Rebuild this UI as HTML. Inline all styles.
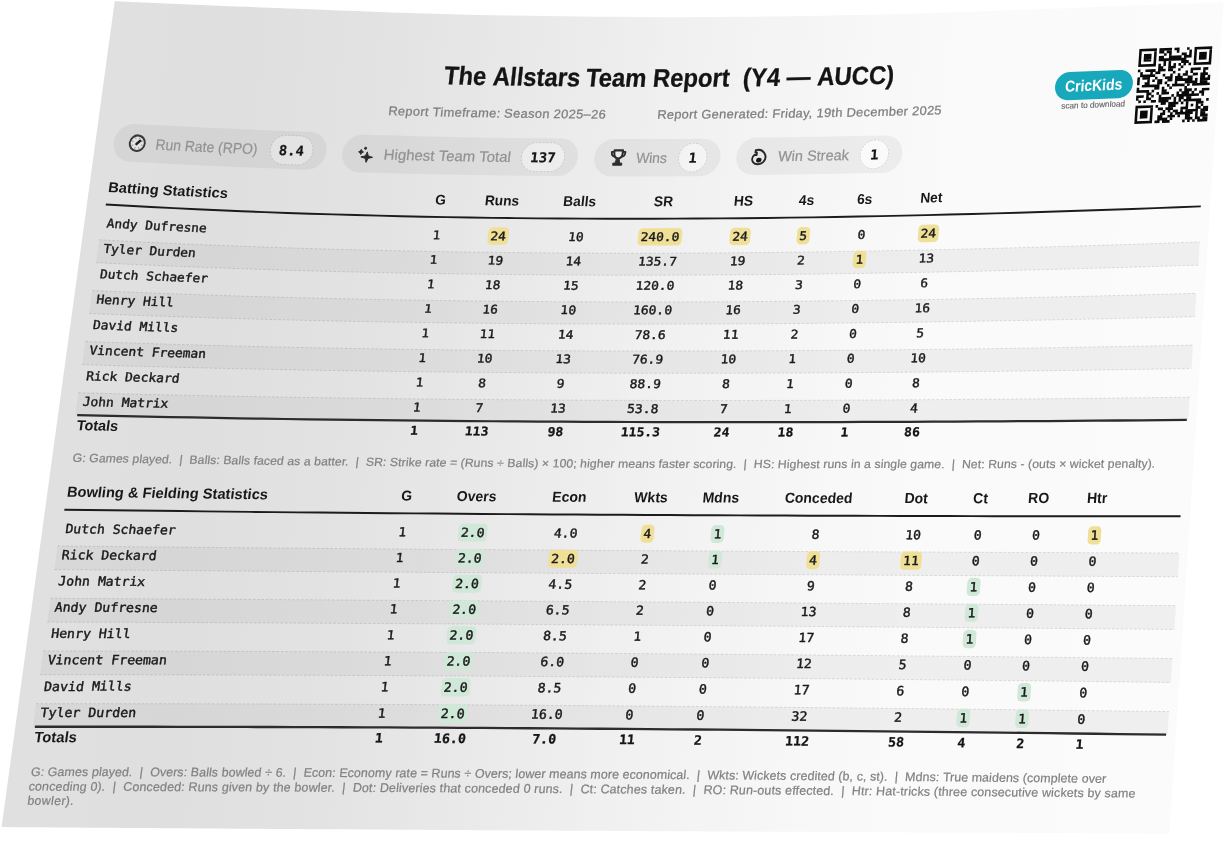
<!DOCTYPE html>
<html lang="en"><head><meta charset="utf-8"><title>The Allstars Team Report</title>
<style>
html,body{margin:0;padding:0;background:#fff;}
body{width:1225px;height:842px;overflow:hidden;}
svg{display:block;}
text{font-family:"Liberation Sans",sans-serif;fill:#1a1a1a;}
.t-title{font-size:25.6px;font-weight:700;fill:#141414;stroke:#141414;stroke-width:.3px;}
.t-sub{font-size:12.4px;fill:#7e7e7e;stroke:#7e7e7e;stroke-width:.25px;}
.t-pill{font-size:14.6px;fill:#929292;stroke:#929292;stroke-width:.2px;}
.t-chipv{font-family:"DejaVu Sans Mono","Liberation Mono",monospace;font-size:13.6px;font-weight:700;fill:#161616;stroke:#161616;stroke-width:.2px;}
.t-th{font-size:14.1px;font-weight:700;fill:#181818;}
.t-mono{font-family:"DejaVu Sans Mono","Liberation Mono",monospace;font-size:12.1px;fill:#1a1a1a;stroke:#1a1a1a;stroke-width:.4px;}
.t-monob{font-family:"DejaVu Sans Mono","Liberation Mono",monospace;font-size:12.1px;font-weight:700;fill:#141414;stroke:#141414;stroke-width:.25px;}
.t-foot{font-size:11.5px;fill:#828282;stroke:#828282;stroke-width:.2px;}
.t-logo{font-size:15.6px;font-weight:700;fill:#fff;}
.t-scan{font-size:8.2px;fill:#666;stroke:#666;stroke-width:.15px;}
</style></head>
<body>
<svg width="1225" height="842" viewBox="0 0 1225 842">
<defs>
<linearGradient id="pg" gradientUnits="userSpaceOnUse" x1="0" y1="0" x2="1310" y2="0" gradientTransform="matrix(1 0 -0.1 1 0 0)"><stop offset="0.0000" stop-color="#e0e0e0"/><stop offset="0.0076" stop-color="#e0e0e0"/><stop offset="0.0153" stop-color="#e0e0e0"/><stop offset="0.0229" stop-color="#e0e0e0"/><stop offset="0.0305" stop-color="#e0e0e0"/><stop offset="0.0382" stop-color="#e0e0e0"/><stop offset="0.0458" stop-color="#e0e0e0"/><stop offset="0.0534" stop-color="#e0e0e0"/><stop offset="0.0611" stop-color="#e0e0e0"/><stop offset="0.0687" stop-color="#e0e0e0"/><stop offset="0.0763" stop-color="#e0e0e0"/><stop offset="0.0840" stop-color="#e0e0e0"/><stop offset="0.0916" stop-color="#e0e0e0"/><stop offset="0.0992" stop-color="#e0e0e0"/><stop offset="0.1069" stop-color="#e0e0e0"/><stop offset="0.1145" stop-color="#e0e0e0"/><stop offset="0.1221" stop-color="#e0e0e0"/><stop offset="0.1298" stop-color="#e0e0e0"/><stop offset="0.1374" stop-color="#dfdfdf"/><stop offset="0.1450" stop-color="#dfdfdf"/><stop offset="0.1527" stop-color="#dfdfdf"/><stop offset="0.1603" stop-color="#dfdfdf"/><stop offset="0.1679" stop-color="#dfdfdf"/><stop offset="0.1756" stop-color="#dfdfdf"/><stop offset="0.1832" stop-color="#dfdfdf"/><stop offset="0.1908" stop-color="#dfdfdf"/><stop offset="0.1985" stop-color="#dfdfdf"/><stop offset="0.2061" stop-color="#e0e0e0"/><stop offset="0.2137" stop-color="#e0e0e0"/><stop offset="0.2214" stop-color="#e0e0e0"/><stop offset="0.2290" stop-color="#e0e0e0"/><stop offset="0.2366" stop-color="#e1e1e1"/><stop offset="0.2443" stop-color="#e1e1e1"/><stop offset="0.2519" stop-color="#e1e1e1"/><stop offset="0.2595" stop-color="#e1e1e1"/><stop offset="0.2672" stop-color="#e2e2e2"/><stop offset="0.2748" stop-color="#e2e2e2"/><stop offset="0.2824" stop-color="#e2e2e2"/><stop offset="0.2901" stop-color="#e2e2e2"/><stop offset="0.2977" stop-color="#e3e3e3"/><stop offset="0.3053" stop-color="#e3e3e3"/><stop offset="0.3130" stop-color="#e3e3e3"/><stop offset="0.3206" stop-color="#e4e4e4"/><stop offset="0.3282" stop-color="#e4e4e4"/><stop offset="0.3359" stop-color="#e5e5e5"/><stop offset="0.3435" stop-color="#e5e5e5"/><stop offset="0.3511" stop-color="#e6e6e6"/><stop offset="0.3588" stop-color="#e6e6e6"/><stop offset="0.3664" stop-color="#e6e6e6"/><stop offset="0.3740" stop-color="#e7e7e7"/><stop offset="0.3817" stop-color="#e8e8e8"/><stop offset="0.3893" stop-color="#e8e8e8"/><stop offset="0.3969" stop-color="#e8e8e8"/><stop offset="0.4046" stop-color="#e9e9e9"/><stop offset="0.4122" stop-color="#e9e9e9"/><stop offset="0.4198" stop-color="#eaeaea"/><stop offset="0.4275" stop-color="#eaeaea"/><stop offset="0.4351" stop-color="#ebebeb"/><stop offset="0.4427" stop-color="#ebebeb"/><stop offset="0.4504" stop-color="#ececec"/><stop offset="0.4580" stop-color="#ececec"/><stop offset="0.4656" stop-color="#ececec"/><stop offset="0.4733" stop-color="#ededed"/><stop offset="0.4809" stop-color="#eeeeee"/><stop offset="0.4885" stop-color="#eeeeee"/><stop offset="0.4962" stop-color="#eeeeee"/><stop offset="0.5038" stop-color="#efefef"/><stop offset="0.5115" stop-color="#f0f0f0"/><stop offset="0.5191" stop-color="#f0f0f0"/><stop offset="0.5267" stop-color="#f0f0f0"/><stop offset="0.5344" stop-color="#f1f1f1"/><stop offset="0.5420" stop-color="#f1f1f1"/><stop offset="0.5496" stop-color="#f2f2f2"/><stop offset="0.5573" stop-color="#f2f2f2"/><stop offset="0.5649" stop-color="#f2f2f2"/><stop offset="0.5725" stop-color="#f3f3f3"/><stop offset="0.5802" stop-color="#f3f3f3"/><stop offset="0.5878" stop-color="#f4f4f4"/><stop offset="0.5954" stop-color="#f4f4f4"/><stop offset="0.6031" stop-color="#f4f4f4"/><stop offset="0.6107" stop-color="#f4f4f4"/><stop offset="0.6183" stop-color="#f5f5f5"/><stop offset="0.6260" stop-color="#f5f5f5"/><stop offset="0.6336" stop-color="#f6f6f6"/><stop offset="0.6412" stop-color="#f6f6f6"/><stop offset="0.6489" stop-color="#f6f6f6"/><stop offset="0.6565" stop-color="#f7f7f7"/><stop offset="0.6641" stop-color="#f7f7f7"/><stop offset="0.6718" stop-color="#f8f8f8"/><stop offset="0.6794" stop-color="#f8f8f8"/><stop offset="0.6870" stop-color="#f8f8f8"/><stop offset="0.6947" stop-color="#f8f8f8"/><stop offset="0.7023" stop-color="#f8f8f8"/><stop offset="0.7099" stop-color="#f9f9f9"/><stop offset="0.7176" stop-color="#f9f9f9"/><stop offset="0.7252" stop-color="#f9f9f9"/><stop offset="0.7328" stop-color="#fafafa"/><stop offset="0.7405" stop-color="#fafafa"/><stop offset="0.7481" stop-color="#fafafa"/><stop offset="0.7557" stop-color="#fafafa"/><stop offset="0.7634" stop-color="#fafafa"/><stop offset="0.7710" stop-color="#fafafa"/><stop offset="0.7786" stop-color="#fafafa"/><stop offset="0.7863" stop-color="#fafafa"/><stop offset="0.7939" stop-color="#fafafa"/><stop offset="0.8015" stop-color="#fafafa"/><stop offset="0.8092" stop-color="#fafafa"/><stop offset="0.8168" stop-color="#fafafa"/><stop offset="0.8244" stop-color="#fafafa"/><stop offset="0.8321" stop-color="#fafafa"/><stop offset="0.8397" stop-color="#fafafa"/><stop offset="0.8473" stop-color="#fafafa"/><stop offset="0.8550" stop-color="#fafafa"/><stop offset="0.8626" stop-color="#fafafa"/><stop offset="0.8702" stop-color="#fafafa"/><stop offset="0.8779" stop-color="#fbfbfb"/><stop offset="0.8855" stop-color="#fbfbfb"/><stop offset="0.8931" stop-color="#fbfbfb"/><stop offset="0.9008" stop-color="#fbfbfb"/><stop offset="0.9084" stop-color="#fbfbfb"/><stop offset="0.9160" stop-color="#fbfbfb"/><stop offset="0.9237" stop-color="#fbfbfb"/><stop offset="0.9313" stop-color="#fbfbfb"/><stop offset="0.9389" stop-color="#fbfbfb"/><stop offset="0.9466" stop-color="#fbfbfb"/><stop offset="0.9542" stop-color="#fbfbfb"/><stop offset="0.9618" stop-color="#fbfbfb"/><stop offset="0.9695" stop-color="#fbfbfb"/><stop offset="0.9771" stop-color="#fbfbfb"/><stop offset="0.9847" stop-color="#fbfbfb"/><stop offset="0.9924" stop-color="#fbfbfb"/><stop offset="1.0000" stop-color="#fbfbfb"/></linearGradient>
<linearGradient id="cg" gradientUnits="userSpaceOnUse" x1="0" y1="0" x2="1310" y2="0" gradientTransform="matrix(1 0 -0.1 1 0 0)"><stop offset="0.0000" stop-color="#e2e2e2"/><stop offset="0.0076" stop-color="#e2e2e2"/><stop offset="0.0153" stop-color="#e2e2e2"/><stop offset="0.0229" stop-color="#e2e2e2"/><stop offset="0.0305" stop-color="#e2e2e2"/><stop offset="0.0382" stop-color="#e2e2e2"/><stop offset="0.0458" stop-color="#e2e2e2"/><stop offset="0.0534" stop-color="#e2e2e2"/><stop offset="0.0611" stop-color="#e2e2e2"/><stop offset="0.0687" stop-color="#e2e2e2"/><stop offset="0.0763" stop-color="#e2e2e2"/><stop offset="0.0840" stop-color="#e2e2e2"/><stop offset="0.0916" stop-color="#e2e2e2"/><stop offset="0.0992" stop-color="#e2e2e2"/><stop offset="0.1069" stop-color="#e2e2e2"/><stop offset="0.1145" stop-color="#e2e2e2"/><stop offset="0.1221" stop-color="#e2e2e2"/><stop offset="0.1298" stop-color="#e2e2e2"/><stop offset="0.1374" stop-color="#e2e2e2"/><stop offset="0.1450" stop-color="#e2e2e2"/><stop offset="0.1527" stop-color="#e2e2e2"/><stop offset="0.1603" stop-color="#e2e2e2"/><stop offset="0.1679" stop-color="#e2e2e2"/><stop offset="0.1756" stop-color="#e2e2e2"/><stop offset="0.1832" stop-color="#e2e2e2"/><stop offset="0.1908" stop-color="#e2e2e2"/><stop offset="0.1985" stop-color="#e2e2e2"/><stop offset="0.2061" stop-color="#e2e2e2"/><stop offset="0.2137" stop-color="#e2e2e2"/><stop offset="0.2214" stop-color="#e3e3e3"/><stop offset="0.2290" stop-color="#e3e3e3"/><stop offset="0.2366" stop-color="#e3e3e3"/><stop offset="0.2443" stop-color="#e3e3e3"/><stop offset="0.2519" stop-color="#e4e4e4"/><stop offset="0.2595" stop-color="#e4e4e4"/><stop offset="0.2672" stop-color="#e4e4e4"/><stop offset="0.2748" stop-color="#e4e4e4"/><stop offset="0.2824" stop-color="#e5e5e5"/><stop offset="0.2901" stop-color="#e5e5e5"/><stop offset="0.2977" stop-color="#e5e5e5"/><stop offset="0.3053" stop-color="#e6e6e6"/><stop offset="0.3130" stop-color="#e6e6e6"/><stop offset="0.3206" stop-color="#e6e6e6"/><stop offset="0.3282" stop-color="#e7e7e7"/><stop offset="0.3359" stop-color="#e7e7e7"/><stop offset="0.3435" stop-color="#e8e8e8"/><stop offset="0.3511" stop-color="#e8e8e8"/><stop offset="0.3588" stop-color="#e8e8e8"/><stop offset="0.3664" stop-color="#e9e9e9"/><stop offset="0.3740" stop-color="#eaeaea"/><stop offset="0.3817" stop-color="#eaeaea"/><stop offset="0.3893" stop-color="#eaeaea"/><stop offset="0.3969" stop-color="#ebebeb"/><stop offset="0.4046" stop-color="#ebebeb"/><stop offset="0.4122" stop-color="#ececec"/><stop offset="0.4198" stop-color="#ececec"/><stop offset="0.4275" stop-color="#ededed"/><stop offset="0.4351" stop-color="#ededed"/><stop offset="0.4427" stop-color="#eeeeee"/><stop offset="0.4504" stop-color="#eeeeee"/><stop offset="0.4580" stop-color="#eeeeee"/><stop offset="0.4656" stop-color="#efefef"/><stop offset="0.4733" stop-color="#f0f0f0"/><stop offset="0.4809" stop-color="#f0f0f0"/><stop offset="0.4885" stop-color="#f0f0f0"/><stop offset="0.4962" stop-color="#f1f1f1"/><stop offset="0.5038" stop-color="#f2f2f2"/><stop offset="0.5115" stop-color="#f2f2f2"/><stop offset="0.5191" stop-color="#f2f2f2"/><stop offset="0.5267" stop-color="#f3f3f3"/><stop offset="0.5344" stop-color="#f3f3f3"/><stop offset="0.5420" stop-color="#f4f4f4"/><stop offset="0.5496" stop-color="#f4f4f4"/><stop offset="0.5573" stop-color="#f5f5f5"/><stop offset="0.5649" stop-color="#f5f5f5"/><stop offset="0.5725" stop-color="#f5f5f5"/><stop offset="0.5802" stop-color="#f6f6f6"/><stop offset="0.5878" stop-color="#f6f6f6"/><stop offset="0.5954" stop-color="#f6f6f6"/><stop offset="0.6031" stop-color="#f7f7f7"/><stop offset="0.6107" stop-color="#f7f7f7"/><stop offset="0.6183" stop-color="#f7f7f7"/><stop offset="0.6260" stop-color="#f8f8f8"/><stop offset="0.6336" stop-color="#f8f8f8"/><stop offset="0.6412" stop-color="#f8f8f8"/><stop offset="0.6489" stop-color="#f9f9f9"/><stop offset="0.6565" stop-color="#f9f9f9"/><stop offset="0.6641" stop-color="#fafafa"/><stop offset="0.6718" stop-color="#fafafa"/><stop offset="0.6794" stop-color="#fafafa"/><stop offset="0.6870" stop-color="#fafafa"/><stop offset="0.6947" stop-color="#fbfbfb"/><stop offset="0.7023" stop-color="#fbfbfb"/><stop offset="0.7099" stop-color="#fbfbfb"/><stop offset="0.7176" stop-color="#fcfcfc"/><stop offset="0.7252" stop-color="#fcfcfc"/><stop offset="0.7328" stop-color="#fcfcfc"/><stop offset="0.7405" stop-color="#fcfcfc"/><stop offset="0.7481" stop-color="#fcfcfc"/><stop offset="0.7557" stop-color="#fdfdfd"/><stop offset="0.7634" stop-color="#fdfdfd"/><stop offset="0.7710" stop-color="#fdfdfd"/><stop offset="0.7786" stop-color="#fdfdfd"/><stop offset="0.7863" stop-color="#fdfdfd"/><stop offset="0.7939" stop-color="#fdfdfd"/><stop offset="0.8015" stop-color="#fdfdfd"/><stop offset="0.8092" stop-color="#fdfdfd"/><stop offset="0.8168" stop-color="#fdfdfd"/><stop offset="0.8244" stop-color="#fdfdfd"/><stop offset="0.8321" stop-color="#fdfdfd"/><stop offset="0.8397" stop-color="#fdfdfd"/><stop offset="0.8473" stop-color="#fdfdfd"/><stop offset="0.8550" stop-color="#fdfdfd"/><stop offset="0.8626" stop-color="#fdfdfd"/><stop offset="0.8702" stop-color="#fdfdfd"/><stop offset="0.8779" stop-color="#fdfdfd"/><stop offset="0.8855" stop-color="#fdfdfd"/><stop offset="0.8931" stop-color="#fdfdfd"/><stop offset="0.9008" stop-color="#fdfdfd"/><stop offset="0.9084" stop-color="#fdfdfd"/><stop offset="0.9160" stop-color="#fdfdfd"/><stop offset="0.9237" stop-color="#fdfdfd"/><stop offset="0.9313" stop-color="#fdfdfd"/><stop offset="0.9389" stop-color="#fdfdfd"/><stop offset="0.9466" stop-color="#fdfdfd"/><stop offset="0.9542" stop-color="#fdfdfd"/><stop offset="0.9618" stop-color="#fdfdfd"/><stop offset="0.9695" stop-color="#fdfdfd"/><stop offset="0.9771" stop-color="#fdfdfd"/><stop offset="0.9847" stop-color="#fdfdfd"/><stop offset="0.9924" stop-color="#fdfdfd"/><stop offset="1.0000" stop-color="#fdfdfd"/></linearGradient>
<linearGradient id="sg" gradientUnits="userSpaceOnUse" x1="0" y1="0" x2="1225" y2="0"><stop offset="0" stop-color="#000" stop-opacity="0.038"/><stop offset="1" stop-color="#000" stop-opacity="0.05"/></linearGradient>
</defs>
<path d="M114.7,1.2 L131.93,1.94 L149.16,2.68 L166.39,3.42 L183.62,4.17 L200.85,4.92 L218.09,5.66 L235.32,6.38 L252.57,7.09 L269.82,7.76 L287.07,8.43 L304.32,9.08 L321.58,9.73 L338.83,10.39 L356.09,11.07 L373.34,11.75 L390.61,12.4 L407.87,12.99 L425.15,13.56 L442.43,14.09 L459.72,14.52 L477.02,14.89 L494.32,15.23 L511.63,15.54 L528.94,15.81 L546.26,16.05 L563.58,16.26 L580.9,16.46 L598.23,16.66 L615.55,16.84 L632.88,16.99 L650.21,17.1 L667.55,17.15 L684.9,17.14 L702.25,17.08 L719.6,16.98 L736.96,16.84 L754.32,16.68 L771.68,16.51 L789.04,16.31 L806.41,16 L823.79,15.64 L841.16,15.3 L858.53,14.97 L875.9,14.63 L893.27,14.24 L910.65,13.79 L928.04,13.26 L945.43,12.67 L962.81,12.07 L980.2,11.42 L997.6,10.75 L1014.98,10.08 L1032.37,9.44 L1049.75,8.83 L1067.13,8.21 L1084.51,7.54 L1101.9,6.78 L1119.28,6.08 L1136.66,5.44 L1154.03,4.83 L1171.4,4.23 L1188.77,3.64 L1206.14,3.06 L1223.5,2.5 L1220.23,52.58 L1216.94,102.9 L1213.64,153.47 L1210.32,204.27 L1206.98,255.41 L1203.63,306.96 L1200.26,358.87 L1196.88,411.09 L1193.48,463.86 L1190.06,516.79 L1186.62,569.32 L1183.17,622.07 L1179.71,675.02 L1176.22,728.18 L1172.72,781.08 L1169.2,833.5 L1150.95,833.42 L1132.71,833.35 L1114.46,833.27 L1096.22,833.2 L1077.97,833.12 L1059.73,833.04 L1041.48,832.96 L1023.24,832.88 L1004.99,832.8 L986.74,832.72 L968.5,832.64 L950.25,832.56 L932.01,832.47 L913.76,832.39 L895.52,832.31 L877.27,832.22 L859.03,832.14 L840.78,832.05 L822.53,831.96 L804.29,831.87 L786.04,831.79 L767.8,831.7 L749.55,831.61 L731.31,831.51 L713.06,831.42 L694.82,831.33 L676.57,831.23 L658.33,831.14 L640.08,831.04 L621.84,830.95 L603.59,830.85 L585.35,830.75 L567.1,830.65 L548.86,830.55 L530.62,830.45 L512.37,830.35 L494.13,830.24 L475.88,830.14 L457.64,830.03 L439.4,829.92 L421.15,829.82 L402.91,829.71 L384.67,829.6 L366.42,829.49 L348.18,829.37 L329.94,829.26 L311.69,829.14 L293.45,829.03 L275.21,828.91 L256.97,828.79 L238.73,828.67 L220.48,828.55 L202.24,828.43 L184,828.31 L165.76,828.18 L147.52,828.06 L129.28,827.93 L111.04,827.8 L92.8,827.67 L74.56,827.54 L56.32,827.41 L38.08,827.27 L19.84,827.14 L1.6,827 L8.93,773.48 L16.22,720.22 L23.48,667.23 L30.7,614.49 L37.89,562.01 L45.04,509.79 L52.16,457.82 L59.25,406.1 L66.29,354.63 L73.31,303.41 L80.29,252.44 L87.24,201.71 L94.15,151.22 L101.03,100.98 L107.88,50.97Z" fill="url(#pg)"/>
<text class="t-title" transform="matrix(0.9282 0.0187 -0.1139 1.0024 443.31 84.25)">The</text>
<text class="t-title" transform="matrix(0.9292 0.0115 -0.1092 1.0013 492.19 85.29)">Allstars</text>
<text class="t-title" transform="matrix(0.9298 0.0062 -0.1038 0.9992 585.23 86.38)">Team</text>
<text class="t-title" transform="matrix(0.9308 -0.004 -0.0989 0.9976 652.3 86.83)">Report</text>
<text class="t-title" transform="matrix(0.9313 -0.0097 -0.0944 0.9977 742.37 86.31)">(Y4</text>
<text class="t-title" transform="matrix(0.9319 -0.0164 -0.092 0.998 786.12 85.83)">—</text>
<text class="t-title" transform="matrix(0.9319 -0.0179 -0.0885 0.9991 816.64 85.3)">AUCC)</text>
<text class="t-sub" transform="matrix(1.035 0.029 -0.1177 1.0055 387.93 114.92)" letter-spacing="0.32">Report</text>
<text class="t-sub" transform="matrix(1.0363 0.0196 -0.1137 1.0036 432.34 116.18)" letter-spacing="0.32">Timeframe:</text>
<text class="t-sub" transform="matrix(1.0372 0.0129 -0.1097 1.0026 503.84 117.48)" letter-spacing="0.32">Season</text>
<text class="t-sub" transform="matrix(1.0377 0.0087 -0.1062 1.0015 553.36 118.08)" letter-spacing="0.32">2025–26</text>
<text class="t-sub" transform="matrix(1.0389 -0.0032 -0.0997 0.9989 656.94 118.66)" letter-spacing="0.26">Report</text>
<text class="t-sub" transform="matrix(1.0395 -0.0093 -0.096 0.999 701.06 118.53)" letter-spacing="0.26">Generated:</text>
<text class="t-sub" transform="matrix(1.04 -0.0167 -0.0923 0.9993 772.06 117.89)" letter-spacing="0.26">Friday,</text>
<text class="t-sub" transform="matrix(1.0401 -0.0185 -0.0901 1.0004 816.24 117.16)" letter-spacing="0.26">19th</text>
<text class="t-sub" transform="matrix(1.0403 -0.0221 -0.0871 1.0009 846.26 116.67)" letter-spacing="0.26">December</text>
<text class="t-sub" transform="matrix(1.0408 -0.0297 -0.0841 1.0027 911.76 115.2)" letter-spacing="0.26">2025</text>
<path d="M113.82,141.89 L114.44,138.95 L115.5,136.12 L116.96,133.45 L118.8,131.01 L120.96,128.86 L123.39,127.06 L126.03,125.65 L128.83,124.66 L131.7,124.12 L134.58,124.03 L149.22,124.8 L163.86,125.55 L178.51,126.27 L193.16,126.98 L207.81,127.67 L222.47,128.33 L237.14,128.97 L251.81,129.58 L266.48,130.18 L281.15,130.75 L295.83,131.3 L310.52,131.84 L313.34,132.17 L316.05,132.97 L318.55,134.2 L320.81,135.83 L322.75,137.83 L324.34,140.15 L325.53,142.74 L326.29,145.51 L326.61,148.42 L326.47,151.39 L326.47,151.39 L325.89,154.34 L324.87,157.2 L323.43,159.91 L321.62,162.39 L319.48,164.58 L317.06,166.44 L314.42,167.91 L311.63,168.95 L308.75,169.55 L305.85,169.68 L291.13,169.16 L276.42,168.61 L261.71,168.04 L247,167.44 L232.29,166.82 L217.6,166.18 L202.9,165.51 L188.21,164.81 L173.52,164.09 L158.84,163.34 L144.17,162.57 L129.5,161.78 L126.67,161.38 L123.98,160.54 L121.49,159.26 L119.26,157.57 L117.35,155.53 L115.79,153.17 L114.64,150.56 L113.92,147.76 L113.64,144.85 L113.82,141.89Z" fill="rgba(0,0,0,0.048)" />
<path d="M270.35,149.35 L270.8,147.08 L271.6,144.88 L272.7,142.81 L274.09,140.91 L275.74,139.24 L277.6,137.82 L279.62,136.7 L281.76,135.91 L283.97,135.46 L286.18,135.36 L289.79,135.5 L293.39,135.63 L296.99,135.77 L300.6,135.9 L302.77,136.16 L304.84,136.77 L306.77,137.71 L308.5,138.97 L309.99,140.51 L311.2,142.29 L312.11,144.27 L312.7,146.41 L312.94,148.64 L312.83,150.92 L312.83,150.92 L312.38,153.18 L311.59,155.38 L310.49,157.46 L309.1,159.36 L307.46,161.04 L305.6,162.46 L303.57,163.59 L301.43,164.39 L299.22,164.85 L297,164.95 L293.39,164.81 L289.78,164.68 L286.17,164.55 L282.56,164.41 L280.38,164.15 L278.31,163.54 L276.38,162.59 L274.65,161.33 L273.16,159.78 L271.95,157.99 L271.05,156 L270.47,153.86 L270.23,151.62 L270.35,149.35Z" fill="url(#cg)" stroke="rgba(0,0,0,0.15)" stroke-width="0.8" stroke-dasharray="2 1.6"/>
<g transform="matrix(0.9748 0.0521 -0.1355 1.0094 137.28 143.17)" fill="none" stroke="#383838" stroke-linecap="round"><circle r="7.7" stroke-width="2" fill="rgba(255,255,255,0.35)"/><path d="M-4.32,-1.57L-5.26,-1.92M-1.94,-4.17L-2.37,-5.08M1.57,-4.32L1.92,-5.26M4.17,-1.94L5.08,-2.37M4.32,1.57L5.26,1.92M1.94,4.17L2.37,5.08M-1.57,4.32L-1.92,5.26M-4.17,1.94L-5.08,2.37" stroke-width="0.9" stroke="#8a8a8a"/><path d="M-0.7,0.9 L2.7,-2.5" stroke-width="2.5" stroke="#222"/></g>
<text class="t-pill" transform="matrix(0.9498 0.0478 -0.1337 1.0109 155.05 149.43)">Run</text>
<text class="t-pill" transform="matrix(0.9504 0.0446 -0.1317 1.0117 184.35 150.91)">Rate</text>
<text class="t-pill" transform="matrix(0.9511 0.0405 -0.1293 1.0122 217.53 152.47)">(RPO)</text>
<text class="t-chipv" transform="matrix(1.0266 0.0379 -0.1258 1.0122 278.33 154.91)">8.4</text>
<path d="M342.36,152.93 L342.94,149.98 L343.96,147.12 L345.39,144.42 L347.2,141.94 L349.33,139.75 L351.74,137.9 L354.38,136.43 L357.16,135.38 L360.03,134.78 L362.92,134.64 L379.46,135.15 L396,135.62 L412.54,136.07 L429.09,136.47 L445.65,136.83 L462.21,137.16 L478.77,137.45 L495.34,137.71 L511.91,137.95 L528.49,138.15 L545.07,138.33 L561.65,138.48 L564.49,138.74 L567.22,139.45 L569.76,140.6 L572.05,142.15 L574.03,144.08 L575.67,146.33 L576.9,148.85 L577.72,151.58 L578.09,154.44 L578,157.38 L578,157.38 L577.47,160.31 L576.49,163.17 L575.1,165.88 L573.33,168.38 L571.22,170.61 L568.82,172.5 L566.2,174.03 L563.41,175.13 L560.53,175.8 L557.63,176.01 L541.01,175.87 L524.39,175.7 L507.77,175.51 L491.16,175.29 L474.55,175.03 L457.94,174.75 L441.34,174.44 L424.74,174.1 L408.15,173.72 L391.56,173.31 L374.98,172.87 L358.4,172.4 L355.56,172.08 L352.84,171.3 L350.32,170.09 L348.06,168.46 L346.11,166.47 L344.51,164.15 L343.32,161.58 L342.55,158.8 L342.23,155.9 L342.36,152.93Z" fill="rgba(0,0,0,0.048)" />
<path d="M521.41,156.86 L521.83,154.61 L522.59,152.42 L523.66,150.34 L525.03,148.43 L526.65,146.73 L528.49,145.28 L530.5,144.12 L532.64,143.28 L534.84,142.77 L537.06,142.62 L540.81,142.66 L544.57,142.69 L548.32,142.73 L552.08,142.76 L554.26,142.96 L556.35,143.51 L558.3,144.39 L560.05,145.59 L561.58,147.07 L562.83,148.8 L563.78,150.73 L564.4,152.83 L564.68,155.03 L564.61,157.28 L564.61,157.28 L564.2,159.53 L563.45,161.73 L562.38,163.81 L561.02,165.72 L559.4,167.43 L557.56,168.89 L555.55,170.05 L553.41,170.9 L551.2,171.41 L548.98,171.57 L545.21,171.53 L541.45,171.5 L537.69,171.47 L533.93,171.43 L531.75,171.23 L529.65,170.68 L527.7,169.79 L525.95,168.59 L524.43,167.1 L523.18,165.37 L522.23,163.42 L521.62,161.33 L521.34,159.12 L521.41,156.86Z" fill="url(#cg)" stroke="rgba(0,0,0,0.15)" stroke-width="0.8" stroke-dasharray="2 1.6"/>
<g transform="matrix(0.9788 0.0294 -0.1206 1.0092 365.84 153.67)" fill="#2a2a2a" stroke="#2a2a2a" stroke-width="0.9" stroke-linejoin="round"><path d="M1.3,-1.8 L2.74,2.15 L7.3,3.4 L2.74,4.65 L1.3,8.6 L-0.14,4.65 L-4.7,3.4 L-0.14,2.15Z"/><path d="M-5.1,-4.1 L-4.22,-2.48 L-2.6,-1.6 L-4.22,-0.72 L-5.1,0.9 L-5.98,-0.72 L-7.6,-1.6 L-5.98,-2.48Z"/><circle cx="-0.9" cy="-5.3" r="1.1"/></g>
<text class="t-pill" transform="matrix(1.0253 0.0256 -0.1175 1.0069 383.28 159.48)">Highest</text>
<text class="t-pill" transform="matrix(1.0261 0.019 -0.1142 1.0053 438.21 160.8)">Team</text>
<text class="t-pill" transform="matrix(1.0267 0.0149 -0.1117 1.0046 478.75 161.54)">Total</text>
<text class="t-chipv" transform="matrix(1.0306 0.0098 -0.1085 1.0037 529.79 162.15)">137</text>
<path d="M594.38,157.58 L594.91,154.65 L595.89,151.79 L597.27,149.08 L599.04,146.58 L601.14,144.36 L603.53,142.46 L606.15,140.93 L608.92,139.82 L611.79,139.15 L614.69,138.93 L622.12,138.96 L629.54,138.98 L636.97,138.99 L644.4,139 L651.83,139 L659.27,139 L666.7,138.98 L674.13,138.96 L681.57,138.94 L689,138.9 L696.43,138.87 L703.87,138.82 L706.72,139.03 L709.45,139.7 L712.01,140.8 L714.32,142.32 L716.32,144.21 L717.98,146.43 L719.24,148.92 L720.08,151.62 L720.48,154.47 L720.42,157.4 L720.42,157.4 L719.91,160.32 L718.96,163.19 L717.6,165.91 L715.84,168.42 L713.75,170.67 L711.37,172.59 L708.76,174.15 L705.98,175.29 L703.11,175.99 L700.2,176.24 L692.75,176.28 L685.3,176.32 L677.85,176.35 L670.4,176.38 L662.95,176.4 L655.5,176.42 L648.05,176.43 L640.6,176.43 L633.15,176.43 L625.7,176.42 L618.25,176.41 L610.8,176.39 L607.95,176.15 L605.22,175.46 L602.67,174.32 L600.37,172.78 L598.38,170.86 L596.74,168.61 L595.49,166.1 L594.67,163.37 L594.3,160.51 L594.38,157.58Z" fill="rgba(0,0,0,0.048)" />
<path d="M678.63,157.64 L679.02,155.4 L679.76,153.2 L680.81,151.12 L682.16,149.19 L683.77,147.48 L685.59,146.01 L687.59,144.82 L689.72,143.95 L691.93,143.41 L694.15,143.23 L694.15,143.23 L694.15,143.23 L694.15,143.23 L694.15,143.23 L696.33,143.39 L698.43,143.9 L700.39,144.75 L702.16,145.92 L703.7,147.37 L704.97,149.07 L705.94,150.99 L706.58,153.06 L706.89,155.25 L706.84,157.49 L706.84,157.49 L706.45,159.74 L705.72,161.94 L704.67,164.02 L703.32,165.95 L701.71,167.67 L699.89,169.15 L697.88,170.34 L695.75,171.21 L693.54,171.75 L691.32,171.94 L691.32,171.94 L691.32,171.94 L691.32,171.94 L691.32,171.94 L689.13,171.77 L687.02,171.26 L685.06,170.4 L683.29,169.24 L681.75,167.78 L680.48,166.07 L679.52,164.16 L678.88,162.08 L678.58,159.89 L678.63,157.64Z" fill="url(#cg)" stroke="rgba(0,0,0,0.15)" stroke-width="0.8" stroke-dasharray="2 1.6"/>
<g transform="matrix(0.9823 0.0028 -0.1034 1.0015 618.06 157.67)" fill="none" stroke="#2e2e2e" stroke-linejoin="round" stroke-linecap="round"><path d="M-4.3,-7.3h8.6v2.4c0,3.7 -2,5.7 -4.3,5.7c-2.3,0 -4.3,-2 -4.3,-5.7z" stroke-width="2.1" fill="rgba(255,255,255,0.3)"/><path d="M-4.8,-5.8h-2.1c0,2.9 .9,4.4 3,4.8 M4.8,-5.8h2.1c0,2.9 -.9,4.4 -3,4.8" stroke-width="1.9"/><path d="M-1.2,1.2h2.4l1,4h-4.4z M-4.4,5.4h8.8v2.2h-8.8z" fill="#2e2e2e" stroke-width="0.9"/></g>
<text class="t-pill" transform="matrix(0.955 -0.0009 -0.1012 1.0007 635.64 162.95)">Wins</text>
<text class="t-chipv" transform="matrix(1.0322 -0.0055 -0.0986 1.0005 688 162.76)">1</text>
<path d="M736.38,156.46 L736.88,153.53 L737.83,150.67 L739.19,147.95 L740.94,145.43 L743.02,143.18 L745.4,141.25 L748,139.7 L750.77,138.55 L753.64,137.83 L756.53,137.57 L767.27,137.46 L778.01,137.32 L788.75,137.17 L799.5,137 L810.24,136.82 L820.98,136.64 L831.73,136.45 L842.47,136.26 L853.22,136.06 L863.96,135.85 L874.71,135.64 L885.45,135.4 L888.31,135.57 L891.05,136.19 L893.62,137.26 L895.95,138.74 L897.98,140.6 L899.66,142.79 L900.96,145.27 L901.83,147.96 L902.26,150.81 L902.24,153.74 L902.24,153.74 L901.76,156.68 L900.84,159.56 L899.5,162.31 L897.78,164.85 L895.71,167.14 L893.35,169.1 L890.75,170.7 L887.99,171.88 L885.12,172.63 L882.21,172.92 L871.44,173.15 L860.67,173.36 L849.9,173.56 L839.13,173.76 L828.36,173.94 L817.59,174.12 L806.83,174.29 L796.06,174.46 L785.29,174.61 L774.52,174.75 L763.76,174.88 L752.99,175 L750.14,174.8 L747.39,174.14 L744.83,173.04 L742.51,171.53 L740.5,169.65 L738.84,167.43 L737.57,164.94 L736.72,162.23 L736.32,159.39 L736.38,156.46Z" fill="rgba(0,0,0,0.048)" />
<path d="M860.27,154.64 L860.64,152.38 L861.35,150.18 L862.39,148.08 L863.71,146.13 L865.3,144.38 L867.11,142.88 L869.1,141.67 L871.22,140.76 L873.42,140.19 L875.64,139.97 L875.64,139.97 L875.64,139.97 L875.64,139.97 L875.64,139.97 L877.84,140.1 L879.94,140.58 L881.91,141.4 L883.7,142.54 L885.26,143.97 L886.55,145.65 L887.54,147.55 L888.21,149.62 L888.53,151.8 L888.51,154.05 L888.51,154.05 L888.15,156.31 L887.44,158.52 L886.41,160.62 L885.09,162.58 L883.5,164.33 L881.69,165.83 L879.69,167.05 L877.57,167.96 L875.37,168.53 L873.14,168.75 L873.14,168.75 L873.14,168.75 L873.14,168.75 L873.14,168.75 L870.95,168.62 L868.84,168.14 L866.86,167.31 L865.07,166.17 L863.52,164.73 L862.23,163.04 L861.24,161.14 L860.57,159.07 L860.25,156.88 L860.27,154.64Z" fill="url(#cg)" stroke="rgba(0,0,0,0.15)" stroke-width="0.8" stroke-dasharray="2 1.6"/>
<g transform="matrix(0.9834 -0.0106 -0.0944 1.0007 758.78 156.24)" fill="none" stroke="#262626" stroke-width="1.9" stroke-linejoin="round" stroke-linecap="round"><path d="M-3.6,-6.1C-1,-6.9 3,-6.5 5.3,-3.2C7.3,-0.4 7.5,3.3 5,5.9C2.4,8.6 -2.6,8.8 -5.1,6.1C-7.1,3.9 -6.7,0.7 -4.6,-1.3L-2.3,-1.3L-2.3,-3.8L-3.8,-3.8Z"/><ellipse cx="0.4" cy="3.9" rx="2.8" ry="2.4" fill="#161616" stroke="none"/></g>
<text class="t-pill" transform="matrix(0.9913 -0.0147 -0.0924 1.0012 777.7 161.24)">Win</text>
<text class="t-pill" transform="matrix(0.9914 -0.017 -0.0901 1.0024 806.66 160.82)">Streak</text>
<text class="t-chipv" transform="matrix(1.0333 -0.0213 -0.0872 1.003 869.71 159.61)">1</text>
<path d="M99.12,239.75 L121.9,240.94 L144.68,242.08 L167.48,243.15 L190.29,244.16 L213.11,245.12 L235.94,246.01 L258.78,246.86 L281.63,247.64 L304.49,248.37 L327.35,249.04 L350.23,249.66 L373.11,250.23 L396,250.74 L418.9,251.21 L441.8,251.62 L464.71,251.98 L487.63,252.3 L510.55,252.56 L533.48,252.78 L556.42,252.95 L579.36,253.08 L602.3,253.16 L625.25,253.19 L648.2,253.18 L671.16,253.13 L694.12,253.04 L717.09,252.91 L740.06,252.73 L763.03,252.52 L786,252.26 L808.98,251.97 L831.96,251.64 L854.94,251.28 L877.92,250.88 L900.91,250.44 L923.89,249.97 L946.88,249.47 L969.87,248.93 L992.85,248.37 L1015.84,247.77 L1038.83,247.14 L1061.82,246.48 L1084.81,245.79 L1107.8,245.08 L1130.79,244.34 L1153.78,243.57 L1176.77,242.78 L1199.76,241.96 L1198.24,265.13 L1175.22,265.87 L1152.2,266.59 L1129.19,267.29 L1106.17,267.96 L1083.15,268.6 L1060.13,269.22 L1037.12,269.81 L1014.1,270.38 L991.08,270.92 L968.06,271.43 L945.05,271.91 L922.03,272.36 L899.02,272.78 L876,273.17 L852.99,273.53 L829.98,273.85 L806.98,274.14 L783.97,274.4 L760.97,274.62 L737.97,274.81 L714.97,274.96 L691.97,275.08 L668.98,275.15 L645.99,275.19 L623.01,275.19 L600.03,275.14 L577.05,275.06 L554.08,274.94 L531.11,274.77 L508.15,274.56 L485.19,274.31 L462.24,274.01 L439.29,273.67 L416.35,273.28 L393.42,272.85 L370.49,272.37 L347.58,271.84 L324.66,271.26 L301.76,270.64 L278.86,269.96 L255.97,269.23 L233.09,268.45 L210.22,267.62 L187.36,266.74 L164.51,265.8 L141.66,264.81 L118.83,263.76 L96.01,262.66Z" fill="url(#sg)" />
<path d="M99.12,239.75 L121.9,240.94 L144.68,242.08 L167.48,243.15 L190.29,244.16 L213.11,245.12 L235.94,246.01 L258.78,246.86 L281.63,247.64 L304.49,248.37 L327.35,249.04 L350.23,249.66 L373.11,250.23 L396,250.74 L418.9,251.21 L441.8,251.62 L464.71,251.98 L487.63,252.3 L510.55,252.56 L533.48,252.78 L556.42,252.95 L579.36,253.08 L602.3,253.16 L625.25,253.19 L648.2,253.18 L671.16,253.13 L694.12,253.04 L717.09,252.91 L740.06,252.73 L763.03,252.52 L786,252.26 L808.98,251.97 L831.96,251.64 L854.94,251.28 L877.92,250.88 L900.91,250.44 L923.89,249.97 L946.88,249.47 L969.87,248.93 L992.85,248.37 L1015.84,247.77 L1038.83,247.14 L1061.82,246.48 L1084.81,245.79 L1107.8,245.08 L1130.79,244.34 L1153.78,243.57 L1176.77,242.78 L1199.76,241.96" fill="none" stroke="rgba(0,0,0,0.13)" stroke-width="0.9" stroke-dasharray="2.6 1.8"/>
<path d="M96.01,262.66 L118.83,263.76 L141.66,264.81 L164.51,265.8 L187.36,266.74 L210.22,267.62 L233.09,268.45 L255.97,269.23 L278.86,269.96 L301.76,270.64 L324.66,271.26 L347.58,271.84 L370.49,272.37 L393.42,272.85 L416.35,273.28 L439.29,273.67 L462.24,274.01 L485.19,274.31 L508.15,274.56 L531.11,274.77 L554.08,274.94 L577.05,275.06 L600.03,275.14 L623.01,275.19 L645.99,275.19 L668.98,275.15 L691.97,275.08 L714.97,274.96 L737.97,274.81 L760.97,274.62 L783.97,274.4 L806.98,274.14 L829.98,273.85 L852.99,273.53 L876,273.17 L899.02,272.78 L922.03,272.36 L945.05,271.91 L968.06,271.43 L991.08,270.92 L1014.1,270.38 L1037.12,269.81 L1060.13,269.22 L1083.15,268.6 L1106.17,267.96 L1129.19,267.29 L1152.2,266.59 L1175.22,265.87 L1198.24,265.13" fill="none" stroke="rgba(0,0,0,0.13)" stroke-width="0.9" stroke-dasharray="2.6 1.8"/>
<path d="M92.22,290.5 L115.1,291.49 L137.99,292.44 L160.89,293.33 L183.79,294.17 L206.71,294.97 L229.63,295.72 L252.56,296.43 L275.5,297.09 L298.44,297.7 L321.39,298.27 L344.35,298.8 L367.32,299.28 L390.29,299.72 L413.26,300.12 L436.25,300.47 L459.23,300.79 L482.23,301.07 L505.23,301.3 L528.23,301.5 L551.24,301.66 L574.25,301.79 L597.26,301.87 L620.28,301.93 L643.3,301.94 L666.33,301.92 L689.36,301.87 L712.39,301.78 L735.42,301.66 L758.46,301.51 L781.5,301.32 L804.54,301.11 L827.58,300.86 L850.63,300.59 L873.68,300.28 L896.72,299.95 L919.77,299.59 L942.82,299.21 L965.87,298.79 L988.92,298.35 L1011.98,297.89 L1035.03,297.4 L1058.08,296.89 L1081.13,296.35 L1104.18,295.79 L1127.24,295.21 L1150.29,294.61 L1173.34,293.98 L1196.39,293.34 L1194.86,316.69 L1171.78,317.26 L1148.7,317.8 L1125.62,318.33 L1102.54,318.84 L1079.46,319.34 L1056.38,319.81 L1033.3,320.25 L1010.22,320.68 L987.14,321.09 L964.06,321.47 L940.98,321.83 L917.9,322.17 L894.82,322.48 L871.75,322.76 L848.67,323.02 L825.6,323.26 L802.53,323.47 L779.45,323.65 L756.39,323.8 L733.32,323.93 L710.25,324.02 L687.19,324.09 L664.13,324.12 L641.08,324.13 L618.02,324.1 L594.97,324.04 L571.92,323.95 L548.88,323.83 L525.84,323.67 L502.8,323.48 L479.77,323.25 L456.74,322.99 L433.72,322.69 L410.7,322.36 L387.69,321.99 L364.68,321.58 L341.68,321.13 L318.68,320.65 L295.69,320.12 L272.71,319.55 L249.73,318.95 L226.76,318.3 L203.8,317.61 L180.84,316.88 L157.89,316.11 L134.95,315.29 L112.02,314.43 L89.1,313.52Z" fill="url(#sg)" />
<path d="M92.22,290.5 L115.1,291.49 L137.99,292.44 L160.89,293.33 L183.79,294.17 L206.71,294.97 L229.63,295.72 L252.56,296.43 L275.5,297.09 L298.44,297.7 L321.39,298.27 L344.35,298.8 L367.32,299.28 L390.29,299.72 L413.26,300.12 L436.25,300.47 L459.23,300.79 L482.23,301.07 L505.23,301.3 L528.23,301.5 L551.24,301.66 L574.25,301.79 L597.26,301.87 L620.28,301.93 L643.3,301.94 L666.33,301.92 L689.36,301.87 L712.39,301.78 L735.42,301.66 L758.46,301.51 L781.5,301.32 L804.54,301.11 L827.58,300.86 L850.63,300.59 L873.68,300.28 L896.72,299.95 L919.77,299.59 L942.82,299.21 L965.87,298.79 L988.92,298.35 L1011.98,297.89 L1035.03,297.4 L1058.08,296.89 L1081.13,296.35 L1104.18,295.79 L1127.24,295.21 L1150.29,294.61 L1173.34,293.98 L1196.39,293.34" fill="none" stroke="rgba(0,0,0,0.13)" stroke-width="0.9" stroke-dasharray="2.6 1.8"/>
<path d="M89.1,313.52 L112.02,314.43 L134.95,315.29 L157.89,316.11 L180.84,316.88 L203.8,317.61 L226.76,318.3 L249.73,318.95 L272.71,319.55 L295.69,320.12 L318.68,320.65 L341.68,321.13 L364.68,321.58 L387.69,321.99 L410.7,322.36 L433.72,322.69 L456.74,322.99 L479.77,323.25 L502.8,323.48 L525.84,323.67 L548.88,323.83 L571.92,323.95 L594.97,324.04 L618.02,324.1 L641.08,324.13 L664.13,324.12 L687.19,324.09 L710.25,324.02 L733.32,323.93 L756.39,323.8 L779.45,323.65 L802.53,323.47 L825.6,323.26 L848.67,323.02 L871.75,322.76 L894.82,322.48 L917.9,322.17 L940.98,321.83 L964.06,321.47 L987.14,321.09 L1010.22,320.68 L1033.3,320.25 L1056.38,319.81 L1079.46,319.34 L1102.54,318.84 L1125.62,318.33 L1148.7,317.8 L1171.78,317.26 L1194.86,316.69" fill="none" stroke="rgba(0,0,0,0.13)" stroke-width="0.9" stroke-dasharray="2.6 1.8"/>
<path d="M85.3,341.5 L108.28,342.29 L131.27,343.04 L154.26,343.76 L177.26,344.44 L200.27,345.08 L223.29,345.69 L246.31,346.26 L269.33,346.8 L292.37,347.3 L315.4,347.77 L338.45,348.2 L361.49,348.6 L384.55,348.97 L407.6,349.3 L430.66,349.61 L453.73,349.88 L476.8,350.12 L499.87,350.33 L522.95,350.52 L546.03,350.67 L569.11,350.79 L592.2,350.89 L615.29,350.96 L638.38,351 L661.47,351.01 L684.57,351 L707.67,350.96 L730.77,350.9 L753.87,350.81 L776.98,350.7 L800.08,350.57 L823.19,350.41 L846.3,350.23 L869.41,350.02 L892.52,349.79 L915.63,349.55 L938.75,349.28 L961.86,348.99 L984.97,348.68 L1008.09,348.35 L1031.2,348.01 L1054.32,347.64 L1077.43,347.26 L1100.55,346.86 L1123.66,346.44 L1146.78,346.01 L1169.89,345.56 L1193,345.09 L1191.47,368.59 L1168.32,368.97 L1145.18,369.34 L1122.04,369.69 L1098.9,370.03 L1075.76,370.36 L1052.61,370.67 L1029.47,370.96 L1006.33,371.24 L983.18,371.51 L960.04,371.75 L936.9,371.98 L913.76,372.19 L890.62,372.39 L867.48,372.56 L844.34,372.72 L821.2,372.86 L798.06,372.98 L774.93,373.07 L751.8,373.15 L728.66,373.21 L705.53,373.24 L682.4,373.26 L659.27,373.25 L636.15,373.22 L613.03,373.16 L589.9,373.09 L566.79,372.99 L543.67,372.86 L520.56,372.71 L497.45,372.54 L474.34,372.34 L451.24,372.11 L428.14,371.86 L405.04,371.58 L381.95,371.27 L358.86,370.94 L335.77,370.58 L312.69,370.19 L289.61,369.77 L266.54,369.32 L243.47,368.84 L220.41,368.33 L197.36,367.79 L174.3,367.22 L151.26,366.62 L128.22,365.99 L105.18,365.33 L82.15,364.63Z" fill="url(#sg)" />
<path d="M85.3,341.5 L108.28,342.29 L131.27,343.04 L154.26,343.76 L177.26,344.44 L200.27,345.08 L223.29,345.69 L246.31,346.26 L269.33,346.8 L292.37,347.3 L315.4,347.77 L338.45,348.2 L361.49,348.6 L384.55,348.97 L407.6,349.3 L430.66,349.61 L453.73,349.88 L476.8,350.12 L499.87,350.33 L522.95,350.52 L546.03,350.67 L569.11,350.79 L592.2,350.89 L615.29,350.96 L638.38,351 L661.47,351.01 L684.57,351 L707.67,350.96 L730.77,350.9 L753.87,350.81 L776.98,350.7 L800.08,350.57 L823.19,350.41 L846.3,350.23 L869.41,350.02 L892.52,349.79 L915.63,349.55 L938.75,349.28 L961.86,348.99 L984.97,348.68 L1008.09,348.35 L1031.2,348.01 L1054.32,347.64 L1077.43,347.26 L1100.55,346.86 L1123.66,346.44 L1146.78,346.01 L1169.89,345.56 L1193,345.09" fill="none" stroke="rgba(0,0,0,0.13)" stroke-width="0.9" stroke-dasharray="2.6 1.8"/>
<path d="M82.15,364.63 L105.18,365.33 L128.22,365.99 L151.26,366.62 L174.3,367.22 L197.36,367.79 L220.41,368.33 L243.47,368.84 L266.54,369.32 L289.61,369.77 L312.69,370.19 L335.77,370.58 L358.86,370.94 L381.95,371.27 L405.04,371.58 L428.14,371.86 L451.24,372.11 L474.34,372.34 L497.45,372.54 L520.56,372.71 L543.67,372.86 L566.79,372.99 L589.9,373.09 L613.03,373.16 L636.15,373.22 L659.27,373.25 L682.4,373.26 L705.53,373.24 L728.66,373.21 L751.8,373.15 L774.93,373.07 L798.06,372.98 L821.2,372.86 L844.34,372.72 L867.48,372.56 L890.62,372.39 L913.76,372.19 L936.9,371.98 L960.04,371.75 L983.18,371.51 L1006.33,371.24 L1029.47,370.96 L1052.61,370.67 L1075.76,370.36 L1098.9,370.03 L1122.04,369.69 L1145.18,369.34 L1168.32,368.97 L1191.47,368.59" fill="none" stroke="rgba(0,0,0,0.13)" stroke-width="0.9" stroke-dasharray="2.6 1.8"/>
<path d="M78.33,392.74 L101.42,393.33 L124.51,393.9 L147.6,394.44 L170.7,394.95 L193.81,395.44 L216.91,395.9 L240.03,396.34 L263.14,396.75 L286.26,397.14 L309.38,397.51 L332.51,397.85 L355.64,398.17 L378.78,398.46 L401.91,398.74 L425.05,398.99 L448.2,399.22 L471.34,399.43 L494.49,399.62 L517.64,399.78 L540.8,399.93 L563.95,400.06 L587.11,400.16 L610.27,400.25 L633.43,400.32 L656.59,400.37 L679.76,400.4 L702.93,400.41 L726.09,400.41 L749.26,400.39 L772.43,400.35 L795.6,400.3 L818.78,400.23 L841.95,400.14 L865.13,400.04 L888.3,399.92 L911.48,399.79 L934.65,399.64 L957.83,399.48 L981.01,399.31 L1004.18,399.12 L1027.36,398.92 L1050.54,398.7 L1073.71,398.47 L1096.89,398.24 L1120.07,397.99 L1143.25,397.72 L1166.42,397.45 L1189.6,397.17 L1188.12,419.86 L1164.91,420.07 L1141.71,420.28 L1118.5,420.48 L1095.3,420.67 L1072.09,420.85 L1048.89,421.02 L1025.68,421.17 L1002.47,421.32 L979.27,421.46 L956.06,421.58 L932.86,421.7 L909.65,421.8 L886.45,421.89 L863.25,421.96 L840.04,422.03 L816.84,422.08 L793.64,422.11 L770.44,422.14 L747.24,422.15 L724.04,422.14 L700.84,422.13 L677.65,422.09 L654.45,422.04 L631.26,421.98 L608.07,421.9 L584.87,421.8 L561.69,421.69 L538.5,421.56 L515.31,421.42 L492.13,421.25 L468.95,421.07 L445.77,420.88 L422.59,420.66 L399.42,420.43 L376.25,420.17 L353.08,419.9 L329.91,419.61 L306.75,419.3 L283.59,418.97 L260.43,418.62 L237.28,418.25 L214.13,417.86 L190.98,417.45 L167.84,417.02 L144.7,416.57 L121.56,416.09 L98.43,415.59 L75.3,415.07Z" fill="url(#sg)" />
<path d="M78.33,392.74 L101.42,393.33 L124.51,393.9 L147.6,394.44 L170.7,394.95 L193.81,395.44 L216.91,395.9 L240.03,396.34 L263.14,396.75 L286.26,397.14 L309.38,397.51 L332.51,397.85 L355.64,398.17 L378.78,398.46 L401.91,398.74 L425.05,398.99 L448.2,399.22 L471.34,399.43 L494.49,399.62 L517.64,399.78 L540.8,399.93 L563.95,400.06 L587.11,400.16 L610.27,400.25 L633.43,400.32 L656.59,400.37 L679.76,400.4 L702.93,400.41 L726.09,400.41 L749.26,400.39 L772.43,400.35 L795.6,400.3 L818.78,400.23 L841.95,400.14 L865.13,400.04 L888.3,399.92 L911.48,399.79 L934.65,399.64 L957.83,399.48 L981.01,399.31 L1004.18,399.12 L1027.36,398.92 L1050.54,398.7 L1073.71,398.47 L1096.89,398.24 L1120.07,397.99 L1143.25,397.72 L1166.42,397.45 L1189.6,397.17" fill="none" stroke="rgba(0,0,0,0.13)" stroke-width="0.9" stroke-dasharray="2.6 1.8"/>
<path d="M105.91,203.57 L128.55,204.85 L151.21,206.06 L173.88,207.2 L196.57,208.28 L219.26,209.29 L241.96,210.25 L264.68,211.14 L287.4,211.97 L310.14,212.74 L332.88,213.46 L355.63,214.11 L378.4,214.71 L401.16,215.26 L423.94,215.74 L446.73,216.18 L469.52,216.55 L492.31,216.88 L515.12,217.16 L537.93,217.38 L560.75,217.55 L583.57,217.68 L606.4,217.75 L629.23,217.78 L652.07,217.76 L674.91,217.69 L697.75,217.58 L720.6,217.43 L743.46,217.23 L766.31,216.98 L789.17,216.7 L812.03,216.38 L834.9,216.01 L857.77,215.61 L880.63,215.17 L903.5,214.69 L926.38,214.17 L949.25,213.62 L972.12,213.03 L995,212.41 L1017.88,211.75 L1040.75,211.06 L1063.63,210.35 L1086.5,209.59 L1109.38,208.81 L1132.26,208 L1155.13,207.17 L1178.01,206.3 L1200.88,205.41 L1200.75,207.34 L1177.88,208.23 L1155,209.1 L1132.12,209.93 L1109.24,210.74 L1086.36,211.52 L1063.48,212.27 L1040.61,212.99 L1017.73,213.67 L994.85,214.33 L971.97,214.95 L949.09,215.53 L926.22,216.09 L903.34,216.6 L880.47,217.08 L857.6,217.52 L834.73,217.92 L811.86,218.29 L789,218.61 L766.13,218.89 L743.28,219.13 L720.42,219.33 L697.57,219.49 L674.72,219.6 L651.88,219.66 L629.04,219.68 L606.2,219.65 L583.37,219.58 L560.54,219.46 L537.72,219.28 L514.91,219.06 L492.1,218.79 L469.3,218.46 L446.51,218.08 L423.72,217.65 L400.94,217.16 L378.17,216.62 L355.41,216.02 L332.65,215.37 L309.9,214.65 L287.17,213.88 L264.44,213.05 L241.72,212.16 L219.01,211.21 L196.32,210.19 L173.63,209.11 L150.96,207.97 L128.3,206.77 L105.65,205.5Z" fill="#1c1c1c" />
<path d="M77.35,413.98 L100.41,414.5 L123.47,415 L146.54,415.48 L169.61,415.93 L192.68,416.36 L215.76,416.77 L238.85,417.16 L261.93,417.53 L285.02,417.88 L308.11,418.21 L331.21,418.52 L354.31,418.81 L377.41,419.08 L400.51,419.33 L423.62,419.57 L446.72,419.78 L469.84,419.98 L492.95,420.16 L516.06,420.32 L539.18,420.46 L562.3,420.59 L585.42,420.7 L608.54,420.8 L631.67,420.88 L654.79,420.94 L677.92,420.99 L701.05,421.02 L724.18,421.04 L747.31,421.04 L770.44,421.03 L793.57,421 L816.71,420.97 L839.84,420.91 L862.98,420.85 L886.11,420.77 L909.25,420.68 L932.38,420.58 L955.52,420.46 L978.66,420.34 L1001.8,420.2 L1024.93,420.05 L1048.07,419.89 L1071.21,419.72 L1094.35,419.54 L1117.48,419.35 L1140.62,419.15 L1163.76,418.94 L1186.89,418.72 L1186.74,421.02 L1163.6,421.23 L1140.46,421.44 L1117.32,421.63 L1094.18,421.82 L1071.04,421.99 L1047.9,422.16 L1024.76,422.31 L1001.62,422.46 L978.48,422.59 L955.34,422.71 L932.2,422.82 L909.06,422.92 L885.92,423.01 L862.78,423.08 L839.65,423.14 L816.51,423.19 L793.37,423.23 L770.24,423.25 L747.1,423.26 L723.97,423.25 L700.84,423.23 L677.71,423.2 L654.58,423.15 L631.45,423.08 L608.32,423 L585.19,422.91 L562.07,422.8 L538.95,422.67 L515.83,422.52 L492.71,422.36 L469.59,422.18 L446.48,421.99 L423.37,421.77 L400.26,421.54 L377.15,421.29 L354.04,421.02 L330.94,420.74 L307.84,420.43 L284.75,420.1 L261.66,419.76 L238.57,419.39 L215.48,419.01 L192.4,418.6 L169.32,418.17 L146.24,417.72 L123.17,417.25 L100.1,416.76 L77.04,416.25Z" fill="#2c2c2c" />
<text class="t-th" transform="matrix(1.036 0.0571 -0.1353 1.0089 107.78 192)" letter-spacing="0.01">Batting</text>
<text class="t-th" transform="matrix(1.0375 0.0489 -0.131 1.0068 162.21 195)" letter-spacing="0.01">Statistics</text>
<text class="t-th" transform="matrix(0.9733 0.0183 -0.1146 1.0022 434.65 204.4)">G</text>
<text class="t-th" transform="matrix(0.9741 0.0121 -0.1106 1.0019 484.41 205.24)">Runs</text>
<text class="t-th" transform="matrix(0.9749 0.0047 -0.1057 1.0019 562.84 206.04)">Balls</text>
<text class="t-th" transform="matrix(0.9757 -0.0028 -0.1004 1.0025 653.48 206.23)">SR</text>
<text class="t-th" transform="matrix(0.9763 -0.0096 -0.0953 1.0035 733.45 205.79)">HS</text>
<text class="t-th" transform="matrix(0.9766 -0.0145 -0.0914 1.0046 798.5 205.03)">4s</text>
<text class="t-th" transform="matrix(0.9769 -0.0189 -0.0878 1.0058 856.63 204.08)">6s</text>
<text class="t-th" transform="matrix(0.9771 -0.0236 -0.0837 1.0075 919.92 202.76)">Net</text>
<text class="t-mono" transform="matrix(1.0542 0.0566 -0.1358 1.0096 106.31 227.52)">Andy</text>
<text class="t-mono" transform="matrix(1.0555 0.0497 -0.1316 1.0039 144.73 229.58)">Dufresne</text>
<text class="t-mono" transform="matrix(1.0603 0.0194 -0.1129 0.9875 432.15 239.27)">1</text>
<path d="M488.41,231.45 L488.9,229.86 L489.94,228.52 L491.39,227.63 L493.01,227.34 L505.3,227.49 L506.85,227.82 L508.1,228.74 L508.85,230.1 L508.99,231.7 L507.99,240.77 L507.5,242.34 L506.46,243.67 L505.02,244.55 L503.4,244.84 L491.08,244.7 L489.53,244.36 L488.29,243.45 L487.54,242.1 L487.4,240.52Z" fill="#f0e097" />
<text class="t-mono" transform="matrix(1.0611 0.0129 -0.1088 0.9861 490.01 240.18)">24</text>
<text class="t-mono" transform="matrix(1.062 0.0052 -0.1039 0.9855 567.86 240.89)">10</text>
<path d="M638.51,232.37 L638.98,230.78 L640.02,229.43 L641.46,228.52 L643.07,228.2 L678.61,228.11 L680.16,228.42 L681.42,229.32 L682.18,230.67 L682.34,232.26 L681.45,241.34 L680.97,242.92 L679.94,244.26 L678.51,245.16 L676.89,245.48 L641.32,245.56 L639.76,245.25 L638.51,244.36 L637.74,243.02 L637.59,241.44Z" fill="#f0e097" />
<text class="t-mono" transform="matrix(1.0628 -0.0026 -0.0987 0.9864 640.2 241.08)">240.0</text>
<path d="M730.22,231.95 L730.68,230.36 L731.71,229 L733.15,228.08 L734.76,227.75 L747.09,227.63 L748.65,227.94 L749.91,228.83 L750.68,230.17 L750.84,231.77 L749.99,240.86 L749.52,242.45 L748.49,243.8 L747.06,244.71 L745.44,245.04 L733.11,245.14 L731.55,244.84 L730.28,243.96 L729.51,242.62 L729.35,241.04Z" fill="#f0e097" />
<text class="t-mono" transform="matrix(1.0634 -0.0096 -0.0938 0.9885 731.96 240.65)">24</text>
<path d="M797.33,231.22 L797.79,229.61 L798.82,228.25 L800.25,227.32 L801.86,226.98 L806.45,226.91 L808.01,227.21 L809.27,228.1 L810.05,229.44 L810.22,231.04 L809.39,240.15 L808.93,241.75 L807.91,243.1 L806.48,244.02 L804.86,244.36 L800.28,244.42 L798.71,244.13 L797.45,243.25 L796.67,241.91 L796.5,240.33Z" fill="#f0e097" />
<text class="t-mono" transform="matrix(1.0638 -0.0148 -0.0901 0.991 799.11 239.92)">5</text>
<text class="t-mono" transform="matrix(1.064 -0.0193 -0.0867 0.9939 857.36 239.01)">0</text>
<path d="M918.51,229.03 L918.96,227.42 L919.98,226.03 L921.4,225.09 L923.02,224.73 L935.35,224.45 L936.91,224.73 L938.19,225.61 L938.97,226.96 L939.16,228.56 L938.4,237.74 L937.95,239.35 L936.94,240.73 L935.52,241.67 L933.9,242.02 L921.55,242.29 L919.99,242.01 L918.72,241.13 L917.93,239.8 L917.75,238.21Z" fill="#f0e097" />
<text class="t-mono" transform="matrix(1.0642 -0.0242 -0.0828 0.9979 920.35 237.77)">24</text>
<text class="t-mono" transform="matrix(1.0566 0.0523 -0.1355 1.0091 102.88 252.81)">Tyler</text>
<text class="t-mono" transform="matrix(1.0577 0.0463 -0.1312 1.0012 149.09 255.05)">Durden</text>
<text class="t-mono" transform="matrix(1.0621 0.0183 -0.1115 0.9762 429.34 263.75)">1</text>
<text class="t-mono" transform="matrix(1.0628 0.0123 -0.1074 0.974 487.3 264.61)">19</text>
<text class="t-mono" transform="matrix(1.0637 0.0052 -0.1024 0.973 565.28 265.29)">14</text>
<text class="t-mono" transform="matrix(1.0644 -0.002 -0.0973 0.9741 637.73 265.5)">135.7</text>
<text class="t-mono" transform="matrix(1.065 -0.0085 -0.0927 0.9771 729.62 265.14)">19</text>
<text class="t-mono" transform="matrix(1.0653 -0.0133 -0.0891 0.9807 796.87 264.49)">2</text>
<path d="M853.38,255.04 L853.84,253.46 L854.86,252.1 L856.29,251.18 L857.9,250.84 L862.5,250.76 L864.06,251.04 L865.33,251.92 L866.11,253.25 L866.29,254.83 L865.51,263.9 L865.05,265.48 L864.04,266.84 L862.61,267.76 L860.99,268.1 L856.39,268.17 L854.83,267.88 L853.56,267.01 L852.77,265.68 L852.59,264.1Z" fill="#f0e097" />
<text class="t-mono" transform="matrix(1.0655 -0.0174 -0.0858 0.9849 855.2 263.68)">1</text>
<text class="t-mono" transform="matrix(1.0657 -0.0219 -0.0821 0.9909 918.28 262.56)">13</text>
<text class="t-mono" transform="matrix(1.0589 0.0476 -0.1358 1.0112 99.45 278.16)">Dutch</text>
<text class="t-mono" transform="matrix(1.06 0.0414 -0.1307 1.0018 145.76 280.21)">Schaefer</text>
<text class="t-mono" transform="matrix(1.0639 0.017 -0.1115 0.977 426.55 288.15)">1</text>
<text class="t-mono" transform="matrix(1.0646 0.0116 -0.1074 0.9747 484.61 288.95)">18</text>
<text class="t-mono" transform="matrix(1.0653 0.0052 -0.1025 0.9737 562.71 289.6)">15</text>
<text class="t-mono" transform="matrix(1.066 -0.0013 -0.0973 0.9749 635.27 289.82)">120.0</text>
<text class="t-mono" transform="matrix(1.0665 -0.0071 -0.0927 0.9782 727.3 289.54)">18</text>
<text class="t-mono" transform="matrix(1.0668 -0.0114 -0.0891 0.982 794.64 289)">3</text>
<text class="t-mono" transform="matrix(1.067 -0.0152 -0.0858 0.9865 853.05 288.3)">0</text>
<text class="t-mono" transform="matrix(1.0672 -0.0192 -0.0822 0.9928 920.11 287.26)">6</text>
<text class="t-mono" transform="matrix(1.0612 0.0433 -0.1362 1.0144 96.01 303.58)">Henry</text>
<text class="t-mono" transform="matrix(1.062 0.0392 -0.1325 1.008 142.41 305.42)">Hill</text>
<text class="t-mono" transform="matrix(1.0657 0.0158 -0.1123 0.9836 423.74 312.72)">1</text>
<text class="t-mono" transform="matrix(1.0663 0.011 -0.1081 0.9817 481.89 313.47)">16</text>
<text class="t-mono" transform="matrix(1.067 0.0053 -0.1032 0.9809 560.12 314.1)">10</text>
<text class="t-mono" transform="matrix(1.0676 -0.0006 -0.098 0.9822 632.79 314.34)">160.0</text>
<text class="t-mono" transform="matrix(1.068 -0.0058 -0.0933 0.9853 724.95 314.14)">16</text>
<text class="t-mono" transform="matrix(1.0683 -0.0097 -0.0896 0.989 792.39 313.69)">3</text>
<text class="t-mono" transform="matrix(1.0685 -0.013 -0.0863 0.9933 850.89 313.1)">0</text>
<text class="t-mono" transform="matrix(1.0686 -0.0167 -0.0826 0.9992 914.15 312.26)">16</text>
<text class="t-mono" transform="matrix(1.0636 0.0388 -0.1364 1.0162 92.56 329.05)">David</text>
<text class="t-mono" transform="matrix(1.0643 0.0349 -0.1324 1.0086 139.07 330.7)">Mills</text>
<text class="t-mono" transform="matrix(1.0675 0.0147 -0.1121 0.9824 420.93 337.29)">1</text>
<text class="t-mono" transform="matrix(1.0681 0.0104 -0.1079 0.9802 479.18 337.98)">11</text>
<text class="t-mono" transform="matrix(1.0686 0.0053 -0.1029 0.9794 557.54 338.59)">14</text>
<text class="t-mono" transform="matrix(1.0692 0.0002 -0.0978 0.9808 634.21 338.85)">78.6</text>
<text class="t-mono" transform="matrix(1.0696 -0.0044 -0.0931 0.9842 722.61 338.74)">11</text>
<text class="t-mono" transform="matrix(1.0698 -0.0078 -0.0895 0.9882 790.15 338.39)">2</text>
<text class="t-mono" transform="matrix(1.07 -0.0108 -0.0863 0.9929 848.73 337.91)">0</text>
<text class="t-mono" transform="matrix(1.0701 -0.014 -0.0826 0.9994 915.97 337.17)">5</text>
<text class="t-mono" transform="matrix(1.0661 0.0336 -0.136 1.0172 89.1 354.58)">Vincent</text>
<text class="t-mono" transform="matrix(1.0669 0.0292 -0.1307 1.0073 151.25 356.48)">Freeman</text>
<text class="t-mono" transform="matrix(1.0693 0.0134 -0.1123 0.9843 418.12 361.88)">1</text>
<text class="t-mono" transform="matrix(1.0698 0.0098 -0.1081 0.9821 476.47 362.52)">10</text>
<text class="t-mono" transform="matrix(1.0703 0.0054 -0.1031 0.9814 554.95 363.1)">13</text>
<text class="t-mono" transform="matrix(1.0708 0.001 -0.098 0.9828 631.74 363.38)">76.9</text>
<text class="t-mono" transform="matrix(1.0711 -0.0029 -0.0933 0.9863 720.27 363.36)">10</text>
<text class="t-mono" transform="matrix(1.0713 -0.0059 -0.0897 0.9904 787.9 363.12)">1</text>
<text class="t-mono" transform="matrix(1.0714 -0.0084 -0.0864 0.9952 846.56 362.76)">0</text>
<text class="t-mono" transform="matrix(1.0716 -0.0112 -0.0827 1.0018 910 362.22)">10</text>
<text class="t-mono" transform="matrix(1.0683 0.0298 -0.1375 1.0221 85.63 380.17)">Rick</text>
<text class="t-mono" transform="matrix(1.0689 0.0267 -0.1331 1.0142 124.56 381.22)">Deckard</text>
<text class="t-mono" transform="matrix(1.0712 0.0122 -0.1128 0.9894 415.3 386.57)">1</text>
<text class="t-mono" transform="matrix(1.0716 0.0092 -0.1087 0.9874 477.65 387.19)">8</text>
<text class="t-mono" transform="matrix(1.072 0.0055 -0.1037 0.9868 556.26 387.74)">9</text>
<text class="t-mono" transform="matrix(1.0723 0.0018 -0.0985 0.9882 629.26 388.03)">88.9</text>
<text class="t-mono" transform="matrix(1.0726 -0.0015 -0.0937 0.9917 721.83 388.09)">8</text>
<text class="t-mono" transform="matrix(1.0728 -0.0039 -0.0901 0.9956 785.65 387.95)">1</text>
<text class="t-mono" transform="matrix(1.0729 -0.006 -0.0868 1.0002 844.39 387.71)">0</text>
<text class="t-mono" transform="matrix(1.073 -0.0083 -0.0831 1.0066 911.82 387.29)">8</text>
<text class="t-mono" transform="matrix(1.0706 0.0256 -0.1379 1.0256 82.15 405.84)">John</text>
<text class="t-mono" transform="matrix(1.0711 0.0233 -0.134 1.0193 121.16 406.75)">Matrix</text>
<text class="t-mono" transform="matrix(1.073 0.0112 -0.1138 0.9977 412.46 411.44)">1</text>
<text class="t-mono" transform="matrix(1.0733 0.0087 -0.1096 0.9961 474.91 412.02)">7</text>
<text class="t-mono" transform="matrix(1.0737 0.0057 -0.1046 0.9957 549.73 412.53)">13</text>
<text class="t-mono" transform="matrix(1.074 0.0026 -0.0994 0.9972 626.76 412.87)">53.8</text>
<text class="t-mono" transform="matrix(1.0742 -0.0001 -0.0946 1.0003 719.47 413.01)">7</text>
<text class="t-mono" transform="matrix(1.0743 -0.0021 -0.0908 1.0038 783.38 412.97)">1</text>
<text class="t-mono" transform="matrix(1.0744 -0.0039 -0.0875 1.008 842.21 412.83)">0</text>
<text class="t-mono" transform="matrix(1.0745 -0.0057 -0.0837 1.0136 909.73 412.56)">4</text>
<text class="t-th" transform="matrix(1.0247 0.0213 -0.1382 1.0287 76.16 430.13)">Totals</text>
<text class="t-monob" transform="matrix(1.0747 0.0104 -0.1147 1.0075 409.78 434.85)">1</text>
<text class="t-monob" transform="matrix(1.0749 0.0083 -0.1106 1.0065 464.5 435.34)">113</text>
<text class="t-monob" transform="matrix(1.0752 0.0058 -0.1055 1.0067 547.27 435.91)">98</text>
<text class="t-monob" transform="matrix(1.0755 0.0033 -0.1003 1.0084 620.49 436.26)">115.3</text>
<text class="t-monob" transform="matrix(1.0757 0.0011 -0.0954 1.0116 713.33 436.49)">24</text>
<text class="t-monob" transform="matrix(1.0758 -0.0006 -0.0916 1.015 777.33 436.53)">18</text>
<text class="t-monob" transform="matrix(1.0759 -0.0021 -0.0881 1.0188 840.15 436.47)">1</text>
<text class="t-monob" transform="matrix(1.0759 -0.0036 -0.0842 1.024 903.84 436.34)">86</text>
<text class="t-foot" transform="matrix(1.0594 0.019 -0.1398 1.0341 72.34 461.76)" letter-spacing="0.08">G:</text>
<text class="t-foot" transform="matrix(1.0596 0.0181 -0.1374 1.0313 88.85 462.05)" letter-spacing="0.08">Games</text>
<text class="t-foot" transform="matrix(1.0598 0.0168 -0.134 1.0278 132.04 462.77)" letter-spacing="0.08">played.</text>
<text class="t-foot" transform="matrix(1.06 0.0159 -0.1319 1.0257 178.89 463.5)" letter-spacing="0.08">|</text>
<text class="t-foot" transform="matrix(1.0601 0.0152 -0.1301 1.0241 189.1 463.64)" letter-spacing="0.08">Balls:</text>
<text class="t-foot" transform="matrix(1.0602 0.0143 -0.1277 1.0222 222.9 464.12)" letter-spacing="0.08">Balls</text>
<text class="t-foot" transform="matrix(1.0604 0.0134 -0.1254 1.0206 253.24 464.52)" letter-spacing="0.08">faced</text>
<text class="t-foot" transform="matrix(1.0605 0.0127 -0.1236 1.0195 286.98 464.94)" letter-spacing="0.08">as</text>
<text class="t-foot" transform="matrix(1.0605 0.0124 -0.1226 1.019 303.51 465.14)" letter-spacing="0.08">a</text>
<text class="t-foot" transform="matrix(1.0606 0.0117 -0.1209 1.0181 313.86 465.26)" letter-spacing="0.08">batter.</text>
<text class="t-foot" transform="matrix(1.0607 0.011 -0.1191 1.0174 355.33 465.71)" letter-spacing="0.08">|</text>
<text class="t-foot" transform="matrix(1.0608 0.0105 -0.1179 1.0169 365.53 465.81)" letter-spacing="0.08">SR:</text>
<text class="t-foot" transform="matrix(1.0609 0.0098 -0.1158 1.0164 389.61 466.05)" letter-spacing="0.08">Strike</text>
<text class="t-foot" transform="matrix(1.061 0.009 -0.1138 1.0161 424.8 466.37)" letter-spacing="0.08">rate</text>
<text class="t-foot" transform="matrix(1.0611 0.0086 -0.1127 1.0159 449.65 466.58)" letter-spacing="0.08">=</text>
<text class="t-foot" transform="matrix(1.0611 0.008 -0.1111 1.0159 460.34 466.67)" letter-spacing="0.08">(Runs</text>
<text class="t-foot" transform="matrix(1.0612 0.0075 -0.1096 1.016 496.8 466.94)" letter-spacing="0.08">÷</text>
<text class="t-foot" transform="matrix(1.0613 0.0069 -0.1082 1.0162 507.07 467.01)" letter-spacing="0.08">Balls)</text>
<text class="t-foot" transform="matrix(1.0613 0.0064 -0.1067 1.0165 541.58 467.23)" letter-spacing="0.08">×</text>
<text class="t-foot" transform="matrix(1.0614 0.006 -0.1055 1.0168 552.28 467.3)" letter-spacing="0.08">100;</text>
<text class="t-foot" transform="matrix(1.0614 0.0052 -0.1035 1.0175 579.86 467.46)" letter-spacing="0.08">higher</text>
<text class="t-foot" transform="matrix(1.0615 0.0044 -0.101 1.0187 617.8 467.65)" letter-spacing="0.08">means</text>
<text class="t-foot" transform="matrix(1.0616 0.0036 -0.0987 1.0201 658.35 467.82)" letter-spacing="0.08">faster</text>
<text class="t-foot" transform="matrix(1.0617 0.0027 -0.0963 1.0219 692.89 467.94)" letter-spacing="0.08">scoring.</text>
<text class="t-foot" transform="matrix(1.0617 0.0021 -0.0944 1.0234 743.29 468.07)" letter-spacing="0.08">|</text>
<text class="t-foot" transform="matrix(1.0617 0.0018 -0.0933 1.0245 753.51 468.1)" letter-spacing="0.08">HS:</text>
<text class="t-foot" transform="matrix(1.0618 0.0011 -0.0912 1.0265 777.61 468.15)" letter-spacing="0.08">Highest</text>
<text class="t-foot" transform="matrix(1.0618 0.0004 -0.0891 1.0289 823.1 468.2)" letter-spacing="0.08">runs</text>
<text class="t-foot" transform="matrix(1.0618 0.0001 -0.0879 1.0303 850.68 468.22)" letter-spacing="0.08">in</text>
<text class="t-foot" transform="matrix(1.0618 -0.0001 -0.0872 1.0312 863.83 468.22)" letter-spacing="0.08">a</text>
<text class="t-foot" transform="matrix(1.0619 -0.0005 -0.0858 1.0329 874.2 468.23)" letter-spacing="0.08">single</text>
<text class="t-foot" transform="matrix(1.0619 -0.0011 -0.0837 1.0358 910.1 468.22)" letter-spacing="0.08">game.</text>
<text class="t-foot" transform="matrix(1.0619 -0.0016 -0.0822 1.038 951.44 468.18)" letter-spacing="0.08">|</text>
<text class="t-foot" transform="matrix(1.0619 -0.0019 -0.081 1.0397 961.66 468.17)" letter-spacing="0.08">Net:</text>
<text class="t-foot" transform="matrix(1.0619 -0.0023 -0.0793 1.0424 987.88 468.14)" letter-spacing="0.08">Runs</text>
<text class="t-foot" transform="matrix(1.0619 -0.0026 -0.0781 1.0443 1020.22 468.07)" letter-spacing="0.08">-</text>
<text class="t-foot" transform="matrix(1.0619 -0.0029 -0.077 1.0462 1027.85 468.06)" letter-spacing="0.08">(outs</text>
<text class="t-foot" transform="matrix(1.0619 -0.0032 -0.0758 1.0482 1058.92 467.98)" letter-spacing="0.08">×</text>
<text class="t-foot" transform="matrix(1.0619 -0.0036 -0.0744 1.0507 1069.62 467.96)" letter-spacing="0.08">wicket</text>
<text class="t-foot" transform="matrix(1.0619 -0.0042 -0.0718 1.0554 1107.55 467.85)" letter-spacing="0.08">penalty).</text>
<path d="M57.52,545.98 L80.88,546.22 L104.24,546.45 L127.6,546.68 L150.97,546.9 L174.33,547.12 L197.7,547.34 L221.06,547.55 L244.43,547.75 L267.8,547.96 L291.16,548.15 L314.53,548.34 L337.9,548.53 L361.27,548.72 L384.64,548.9 L408.01,549.07 L431.39,549.24 L454.76,549.41 L478.13,549.58 L501.5,549.74 L524.88,549.89 L548.25,550.04 L571.63,550.19 L595,550.34 L618.38,550.48 L641.75,550.62 L665.13,550.75 L688.5,550.88 L711.88,551.01 L735.26,551.14 L758.63,551.26 L782.01,551.38 L805.39,551.49 L828.77,551.61 L852.14,551.72 L875.52,551.82 L898.9,551.93 L922.28,552.03 L945.65,552.13 L969.03,552.23 L992.41,552.32 L1015.79,552.41 L1039.17,552.5 L1062.54,552.59 L1085.92,552.67 L1109.3,552.76 L1132.68,552.84 L1156.06,552.91 L1179.43,552.99 L1177.87,576.76 L1154.46,576.64 L1131.05,576.52 L1107.64,576.4 L1084.23,576.28 L1060.82,576.15 L1037.41,576.03 L1014,575.91 L990.59,575.78 L967.18,575.65 L943.77,575.52 L920.36,575.4 L896.95,575.27 L873.54,575.13 L850.13,575 L826.73,574.87 L803.32,574.73 L779.91,574.6 L756.5,574.46 L733.09,574.32 L709.68,574.18 L686.27,574.04 L662.86,573.9 L639.45,573.75 L616.05,573.6 L592.64,573.46 L569.23,573.31 L545.82,573.16 L522.41,573.01 L499.01,572.85 L475.6,572.7 L452.19,572.54 L428.78,572.38 L405.38,572.22 L381.97,572.06 L358.56,571.9 L335.16,571.73 L311.75,571.56 L288.35,571.39 L264.94,571.22 L241.54,571.05 L218.13,570.87 L194.73,570.7 L171.32,570.52 L147.92,570.34 L124.52,570.15 L101.11,569.97 L77.71,569.78 L54.31,569.59Z" fill="url(#sg)" />
<path d="M57.52,545.98 L80.88,546.22 L104.24,546.45 L127.6,546.68 L150.97,546.9 L174.33,547.12 L197.7,547.34 L221.06,547.55 L244.43,547.75 L267.8,547.96 L291.16,548.15 L314.53,548.34 L337.9,548.53 L361.27,548.72 L384.64,548.9 L408.01,549.07 L431.39,549.24 L454.76,549.41 L478.13,549.58 L501.5,549.74 L524.88,549.89 L548.25,550.04 L571.63,550.19 L595,550.34 L618.38,550.48 L641.75,550.62 L665.13,550.75 L688.5,550.88 L711.88,551.01 L735.26,551.14 L758.63,551.26 L782.01,551.38 L805.39,551.49 L828.77,551.61 L852.14,551.72 L875.52,551.82 L898.9,551.93 L922.28,552.03 L945.65,552.13 L969.03,552.23 L992.41,552.32 L1015.79,552.41 L1039.17,552.5 L1062.54,552.59 L1085.92,552.67 L1109.3,552.76 L1132.68,552.84 L1156.06,552.91 L1179.43,552.99" fill="none" stroke="rgba(0,0,0,0.13)" stroke-width="0.9" stroke-dasharray="2.6 1.8"/>
<path d="M54.31,569.59 L77.71,569.78 L101.11,569.97 L124.52,570.15 L147.92,570.34 L171.32,570.52 L194.73,570.7 L218.13,570.87 L241.54,571.05 L264.94,571.22 L288.35,571.39 L311.75,571.56 L335.16,571.73 L358.56,571.9 L381.97,572.06 L405.38,572.22 L428.78,572.38 L452.19,572.54 L475.6,572.7 L499.01,572.85 L522.41,573.01 L545.82,573.16 L569.23,573.31 L592.64,573.46 L616.05,573.6 L639.45,573.75 L662.86,573.9 L686.27,574.04 L709.68,574.18 L733.09,574.32 L756.5,574.46 L779.91,574.6 L803.32,574.73 L826.73,574.87 L850.13,575 L873.54,575.13 L896.95,575.27 L920.36,575.4 L943.77,575.52 L967.18,575.65 L990.59,575.78 L1014,575.91 L1037.41,576.03 L1060.82,576.15 L1084.23,576.28 L1107.64,576.4 L1131.05,576.52 L1154.46,576.64 L1177.87,576.76" fill="none" stroke="rgba(0,0,0,0.13)" stroke-width="0.9" stroke-dasharray="2.6 1.8"/>
<path d="M50.41,598.29 L73.86,598.42 L97.31,598.56 L120.77,598.69 L144.22,598.82 L167.67,598.96 L191.12,599.09 L214.57,599.23 L238.02,599.37 L261.47,599.51 L284.92,599.65 L308.37,599.79 L331.82,599.93 L355.27,600.08 L378.72,600.22 L402.17,600.37 L425.62,600.52 L449.07,600.66 L472.52,600.81 L495.97,600.96 L519.42,601.11 L542.87,601.26 L566.31,601.42 L589.76,601.57 L613.21,601.72 L636.66,601.88 L660.11,602.03 L683.56,602.19 L707,602.35 L730.45,602.5 L753.9,602.66 L777.35,602.82 L800.8,602.98 L824.25,603.14 L847.69,603.31 L871.14,603.47 L894.59,603.63 L918.04,603.8 L941.49,603.96 L964.93,604.12 L988.38,604.29 L1011.83,604.46 L1035.28,604.62 L1058.72,604.79 L1082.17,604.96 L1105.62,605.13 L1129.07,605.29 L1152.52,605.46 L1175.96,605.63 L1174.39,629.5 L1150.91,629.29 L1127.43,629.08 L1103.95,628.88 L1080.47,628.67 L1056.99,628.47 L1033.51,628.27 L1010.03,628.07 L986.55,627.88 L963.07,627.68 L939.59,627.49 L916.11,627.3 L892.63,627.11 L869.15,626.92 L845.67,626.73 L822.19,626.55 L798.71,626.37 L775.23,626.19 L751.75,626.02 L728.27,625.84 L704.79,625.67 L681.31,625.5 L657.83,625.33 L634.34,625.17 L610.86,625.01 L587.38,624.85 L563.9,624.69 L540.42,624.54 L516.93,624.39 L493.45,624.24 L469.97,624.1 L446.48,623.95 L423,623.81 L399.51,623.68 L376.03,623.55 L352.54,623.42 L329.06,623.29 L305.57,623.16 L282.08,623.04 L258.6,622.93 L235.11,622.81 L211.62,622.7 L188.13,622.6 L164.64,622.49 L141.15,622.39 L117.66,622.29 L94.17,622.2 L70.68,622.11 L47.19,622.03Z" fill="url(#sg)" />
<path d="M50.41,598.29 L73.86,598.42 L97.31,598.56 L120.77,598.69 L144.22,598.82 L167.67,598.96 L191.12,599.09 L214.57,599.23 L238.02,599.37 L261.47,599.51 L284.92,599.65 L308.37,599.79 L331.82,599.93 L355.27,600.08 L378.72,600.22 L402.17,600.37 L425.62,600.52 L449.07,600.66 L472.52,600.81 L495.97,600.96 L519.42,601.11 L542.87,601.26 L566.31,601.42 L589.76,601.57 L613.21,601.72 L636.66,601.88 L660.11,602.03 L683.56,602.19 L707,602.35 L730.45,602.5 L753.9,602.66 L777.35,602.82 L800.8,602.98 L824.25,603.14 L847.69,603.31 L871.14,603.47 L894.59,603.63 L918.04,603.8 L941.49,603.96 L964.93,604.12 L988.38,604.29 L1011.83,604.46 L1035.28,604.62 L1058.72,604.79 L1082.17,604.96 L1105.62,605.13 L1129.07,605.29 L1152.52,605.46 L1175.96,605.63" fill="none" stroke="rgba(0,0,0,0.13)" stroke-width="0.9" stroke-dasharray="2.6 1.8"/>
<path d="M47.19,622.03 L70.68,622.11 L94.17,622.2 L117.66,622.29 L141.15,622.39 L164.64,622.49 L188.13,622.6 L211.62,622.7 L235.11,622.81 L258.6,622.93 L282.08,623.04 L305.57,623.16 L329.06,623.29 L352.54,623.42 L376.03,623.55 L399.51,623.68 L423,623.81 L446.48,623.95 L469.97,624.1 L493.45,624.24 L516.93,624.39 L540.42,624.54 L563.9,624.69 L587.38,624.85 L610.86,625.01 L634.34,625.17 L657.83,625.33 L681.31,625.5 L704.79,625.67 L728.27,625.84 L751.75,626.02 L775.23,626.19 L798.71,626.37 L822.19,626.55 L845.67,626.73 L869.15,626.92 L892.63,627.11 L916.11,627.3 L939.59,627.49 L963.07,627.68 L986.55,627.88 L1010.03,628.07 L1033.51,628.27 L1056.99,628.47 L1080.47,628.67 L1103.95,628.88 L1127.43,629.08 L1150.91,629.29 L1174.39,629.5" fill="none" stroke="rgba(0,0,0,0.13)" stroke-width="0.9" stroke-dasharray="2.6 1.8"/>
<path d="M43.27,650.88 L66.81,650.92 L90.35,650.96 L113.89,651.01 L137.42,651.07 L160.96,651.13 L184.5,651.2 L208.03,651.28 L231.57,651.36 L255.1,651.44 L278.63,651.54 L302.16,651.64 L325.69,651.74 L349.22,651.85 L372.75,651.96 L396.28,652.08 L419.8,652.21 L443.33,652.34 L466.86,652.48 L490.38,652.62 L513.91,652.76 L537.43,652.91 L560.95,653.07 L584.48,653.23 L608,653.39 L631.52,653.56 L655.04,653.73 L678.57,653.91 L702.09,654.09 L725.61,654.28 L749.13,654.47 L772.65,654.66 L796.17,654.86 L819.69,655.06 L843.21,655.27 L866.73,655.48 L890.25,655.69 L913.77,655.91 L937.29,656.13 L960.81,656.35 L984.32,656.57 L1007.84,656.8 L1031.36,657.04 L1054.88,657.27 L1078.4,657.51 L1101.92,657.75 L1125.44,658 L1148.96,658.24 L1172.48,658.49 L1170.89,682.46 L1147.34,682.18 L1123.79,681.91 L1100.24,681.64 L1076.69,681.37 L1053.13,681.11 L1029.58,680.85 L1006.03,680.6 L982.48,680.35 L958.93,680.1 L935.38,679.86 L911.82,679.62 L888.27,679.38 L864.72,679.15 L841.17,678.93 L817.61,678.71 L794.06,678.49 L770.51,678.28 L746.95,678.08 L723.4,677.88 L699.85,677.68 L676.29,677.49 L652.74,677.31 L629.18,677.13 L605.62,676.95 L582.07,676.78 L558.51,676.62 L534.95,676.47 L511.39,676.32 L487.83,676.17 L464.27,676.03 L440.71,675.9 L417.15,675.78 L393.59,675.66 L370.03,675.55 L346.46,675.44 L322.9,675.34 L299.33,675.25 L275.76,675.17 L252.2,675.09 L228.63,675.02 L205.06,674.96 L181.48,674.9 L157.91,674.86 L134.34,674.82 L110.76,674.79 L87.18,674.76 L63.6,674.75 L40.02,674.74Z" fill="url(#sg)" />
<path d="M43.27,650.88 L66.81,650.92 L90.35,650.96 L113.89,651.01 L137.42,651.07 L160.96,651.13 L184.5,651.2 L208.03,651.28 L231.57,651.36 L255.1,651.44 L278.63,651.54 L302.16,651.64 L325.69,651.74 L349.22,651.85 L372.75,651.96 L396.28,652.08 L419.8,652.21 L443.33,652.34 L466.86,652.48 L490.38,652.62 L513.91,652.76 L537.43,652.91 L560.95,653.07 L584.48,653.23 L608,653.39 L631.52,653.56 L655.04,653.73 L678.57,653.91 L702.09,654.09 L725.61,654.28 L749.13,654.47 L772.65,654.66 L796.17,654.86 L819.69,655.06 L843.21,655.27 L866.73,655.48 L890.25,655.69 L913.77,655.91 L937.29,656.13 L960.81,656.35 L984.32,656.57 L1007.84,656.8 L1031.36,657.04 L1054.88,657.27 L1078.4,657.51 L1101.92,657.75 L1125.44,658 L1148.96,658.24 L1172.48,658.49" fill="none" stroke="rgba(0,0,0,0.13)" stroke-width="0.9" stroke-dasharray="2.6 1.8"/>
<path d="M40.02,674.74 L63.6,674.75 L87.18,674.76 L110.76,674.79 L134.34,674.82 L157.91,674.86 L181.48,674.9 L205.06,674.96 L228.63,675.02 L252.2,675.09 L275.76,675.17 L299.33,675.25 L322.9,675.34 L346.46,675.44 L370.03,675.55 L393.59,675.66 L417.15,675.78 L440.71,675.9 L464.27,676.03 L487.83,676.17 L511.39,676.32 L534.95,676.47 L558.51,676.62 L582.07,676.78 L605.62,676.95 L629.18,677.13 L652.74,677.31 L676.29,677.49 L699.85,677.68 L723.4,677.88 L746.95,678.08 L770.51,678.28 L794.06,678.49 L817.61,678.71 L841.17,678.93 L864.72,679.15 L888.27,679.38 L911.82,679.62 L935.38,679.86 L958.93,680.1 L982.48,680.35 L1006.03,680.6 L1029.58,680.85 L1053.13,681.11 L1076.69,681.37 L1100.24,681.64 L1123.79,681.91 L1147.34,682.18 L1170.89,682.46" fill="none" stroke="rgba(0,0,0,0.13)" stroke-width="0.9" stroke-dasharray="2.6 1.8"/>
<path d="M36.08,703.75 L59.71,703.73 L83.33,703.73 L106.95,703.73 L130.57,703.74 L154.19,703.76 L177.81,703.79 L201.43,703.83 L225.04,703.88 L248.65,703.94 L272.27,704 L295.88,704.08 L319.49,704.16 L343.09,704.25 L366.7,704.35 L390.31,704.45 L413.91,704.57 L437.52,704.69 L461.12,704.82 L484.72,704.95 L508.32,705.09 L531.92,705.25 L555.52,705.4 L579.12,705.57 L602.72,705.74 L626.32,705.92 L649.91,706.1 L673.51,706.29 L697.11,706.49 L720.7,706.69 L744.3,706.9 L767.89,707.12 L791.48,707.34 L815.08,707.57 L838.67,707.8 L862.27,708.04 L885.86,708.28 L909.45,708.53 L933.04,708.78 L956.64,709.04 L980.23,709.31 L1003.82,709.57 L1027.41,709.85 L1051.01,710.12 L1074.6,710.41 L1098.19,710.69 L1121.79,710.98 L1145.38,711.27 L1168.97,711.57 L1167.44,734.68 L1143.82,734.37 L1120.19,734.07 L1096.57,733.78 L1072.94,733.49 L1049.32,733.2 L1025.69,732.91 L1002.06,732.64 L978.44,732.36 L954.81,732.09 L931.19,731.83 L907.56,731.57 L883.94,731.32 L860.31,731.07 L836.68,730.83 L813.06,730.59 L789.43,730.36 L765.8,730.13 L742.17,729.92 L718.55,729.7 L694.92,729.5 L671.29,729.3 L647.66,729.1 L624.03,728.92 L600.4,728.74 L576.77,728.56 L553.13,728.4 L529.5,728.24 L505.87,728.09 L482.23,727.94 L458.6,727.81 L434.96,727.68 L411.32,727.56 L387.69,727.44 L364.05,727.34 L340.41,727.24 L316.76,727.15 L293.12,727.07 L269.48,727 L245.83,726.94 L222.18,726.89 L198.54,726.84 L174.89,726.81 L151.23,726.78 L127.58,726.76 L103.93,726.76 L80.27,726.76 L56.61,726.77 L32.95,726.79Z" fill="url(#sg)" />
<path d="M36.08,703.75 L59.71,703.73 L83.33,703.73 L106.95,703.73 L130.57,703.74 L154.19,703.76 L177.81,703.79 L201.43,703.83 L225.04,703.88 L248.65,703.94 L272.27,704 L295.88,704.08 L319.49,704.16 L343.09,704.25 L366.7,704.35 L390.31,704.45 L413.91,704.57 L437.52,704.69 L461.12,704.82 L484.72,704.95 L508.32,705.09 L531.92,705.25 L555.52,705.4 L579.12,705.57 L602.72,705.74 L626.32,705.92 L649.91,706.1 L673.51,706.29 L697.11,706.49 L720.7,706.69 L744.3,706.9 L767.89,707.12 L791.48,707.34 L815.08,707.57 L838.67,707.8 L862.27,708.04 L885.86,708.28 L909.45,708.53 L933.04,708.78 L956.64,709.04 L980.23,709.31 L1003.82,709.57 L1027.41,709.85 L1051.01,710.12 L1074.6,710.41 L1098.19,710.69 L1121.79,710.98 L1145.38,711.27 L1168.97,711.57" fill="none" stroke="rgba(0,0,0,0.13)" stroke-width="0.9" stroke-dasharray="2.6 1.8"/>
<path d="M64.5,508.65 L87.73,508.96 L110.96,509.27 L134.19,509.56 L157.43,509.85 L180.66,510.12 L203.9,510.39 L227.14,510.65 L250.38,510.9 L273.62,511.14 L296.86,511.38 L320.11,511.6 L343.35,511.82 L366.6,512.03 L389.84,512.23 L413.09,512.43 L436.34,512.62 L459.59,512.8 L482.84,512.97 L506.1,513.14 L529.35,513.3 L552.6,513.45 L575.86,513.59 L599.11,513.73 L622.37,513.86 L645.62,513.99 L668.88,514.11 L692.14,514.22 L715.4,514.33 L738.65,514.43 L761.91,514.52 L785.17,514.61 L808.43,514.7 L831.69,514.78 L854.95,514.85 L878.21,514.92 L901.47,514.98 L924.73,515.04 L947.99,515.09 L971.26,515.14 L994.52,515.18 L1017.78,515.22 L1041.04,515.25 L1064.3,515.28 L1087.56,515.31 L1110.82,515.33 L1134.08,515.35 L1157.34,515.36 L1180.61,515.37 L1180.47,517.37 L1157.21,517.35 L1133.95,517.33 L1110.68,517.31 L1087.42,517.29 L1064.16,517.26 L1040.89,517.23 L1017.63,517.19 L994.36,517.15 L971.1,517.1 L947.84,517.05 L924.57,517 L901.31,516.94 L878.05,516.87 L854.78,516.8 L831.52,516.73 L808.26,516.65 L785,516.56 L761.73,516.47 L738.47,516.37 L715.21,516.27 L691.95,516.16 L668.69,516.05 L645.43,515.93 L622.17,515.8 L598.91,515.67 L575.66,515.53 L552.4,515.39 L529.14,515.23 L505.89,515.08 L482.63,514.91 L459.38,514.74 L436.12,514.56 L412.87,514.37 L389.62,514.18 L366.37,513.98 L343.12,513.77 L319.87,513.55 L296.63,513.32 L273.38,513.09 L250.14,512.85 L226.89,512.6 L203.65,512.35 L180.41,512.08 L157.17,511.81 L133.93,511.53 L110.7,511.24 L87.46,510.94 L64.23,510.63Z" fill="#1c1c1c" />
<path d="M35.05,725.62 L58.64,725.6 L82.23,725.59 L105.81,725.59 L129.4,725.59 L152.98,725.61 L176.56,725.64 L200.14,725.67 L223.72,725.72 L247.3,725.77 L270.87,725.84 L294.45,725.91 L318.02,725.99 L341.59,726.08 L365.17,726.17 L388.74,726.28 L412.3,726.39 L435.87,726.51 L459.44,726.64 L483,726.78 L506.57,726.92 L530.13,727.07 L553.7,727.23 L577.26,727.39 L600.82,727.57 L624.38,727.75 L647.94,727.93 L671.5,728.13 L695.06,728.33 L718.62,728.53 L742.18,728.74 L765.74,728.96 L789.3,729.19 L812.85,729.42 L836.41,729.65 L859.97,729.89 L883.52,730.14 L907.08,730.39 L930.64,730.65 L954.19,730.91 L977.75,731.18 L1001.31,731.45 L1024.86,731.73 L1048.42,732.01 L1071.97,732.3 L1095.53,732.59 L1119.09,732.89 L1142.64,733.19 L1166.2,733.49 L1166.04,735.83 L1142.48,735.53 L1118.92,735.23 L1095.36,734.94 L1071.8,734.64 L1048.25,734.36 L1024.69,734.08 L1001.13,733.8 L977.57,733.53 L954.01,733.26 L930.45,732.99 L906.89,732.74 L883.33,732.48 L859.77,732.24 L836.21,731.99 L812.65,731.76 L789.09,731.53 L765.53,731.3 L741.96,731.09 L718.4,730.87 L694.84,730.67 L671.28,730.47 L647.71,730.27 L624.15,730.09 L600.58,729.91 L577.02,729.74 L553.45,729.57 L529.89,729.41 L506.32,729.26 L482.75,729.12 L459.18,728.98 L435.61,728.85 L412.04,728.73 L388.47,728.62 L364.9,728.51 L341.32,728.42 L317.75,728.33 L294.17,728.25 L270.59,728.18 L247.01,728.11 L223.43,728.06 L199.85,728.01 L176.26,727.98 L152.68,727.95 L129.09,727.93 L105.5,727.93 L81.91,727.93 L58.32,727.94 L34.73,727.96Z" fill="#2c2c2c" />
<text class="t-th" transform="matrix(1.0384 0.0151 -0.1387 1.0359 66.43 496.7)">Bowling</text>
<text class="t-th" transform="matrix(1.0385 0.0143 -0.1358 1.033 127.44 497.56)">&amp;</text>
<text class="t-th" transform="matrix(1.0387 0.0135 -0.133 1.0305 142.1 497.75)">Fielding</text>
<text class="t-th" transform="matrix(1.0389 0.0122 -0.1282 1.0268 202.33 498.52)">Statistics</text>
<text class="t-th" transform="matrix(0.993 0.0086 -0.1164 1.0212 400.67 500.56)">G</text>
<text class="t-th" transform="matrix(0.9932 0.0074 -0.1118 1.0206 456.31 501.02)">Overs</text>
<text class="t-th" transform="matrix(0.9934 0.006 -0.1058 1.0211 551.87 501.7)">Econ</text>
<text class="t-th" transform="matrix(0.9935 0.0048 -0.1007 1.0228 633.87 502.17)">Wkts</text>
<text class="t-th" transform="matrix(0.9935 0.0039 -0.0964 1.0251 702.18 502.5)">Mdns</text>
<text class="t-th" transform="matrix(0.9936 0.0026 -0.0905 1.0296 784.39 502.82)">Conceded</text>
<text class="t-th" transform="matrix(0.9937 0.0015 -0.0847 1.0354 904.17 503.12)">Dot</text>
<text class="t-th" transform="matrix(0.9937 0.0008 -0.0809 1.0398 972.8 503.22)">Ct</text>
<text class="t-th" transform="matrix(0.9937 0.0002 -0.0774 1.0443 1027.82 503.28)">RO</text>
<text class="t-th" transform="matrix(0.9937 -0.0003 -0.074 1.0491 1086.64 503.3)">Htr</text>
<text class="t-mono" transform="matrix(1.0812 0.0125 -0.1396 1.0398 64.91 533.11)">Dutch</text>
<text class="t-mono" transform="matrix(1.0814 0.0117 -0.1351 1.035 112.19 533.64)">Schaefer</text>
<text class="t-mono" transform="matrix(1.0819 0.0085 -0.1169 1.0224 398.09 536.31)">1</text>
<path d="M458.79,527.76 L459.3,526.12 L460.37,524.74 L461.84,523.82 L463.49,523.5 L483.91,523.65 L485.49,523.99 L486.76,524.93 L487.52,526.33 L487.66,527.97 L486.64,537.37 L486.14,539 L485.07,540.39 L483.6,541.31 L481.94,541.63 L461.5,541.48 L459.92,541.14 L458.65,540.2 L457.89,538.8 L457.75,537.16Z" fill="#d0e8d8" />
<text class="t-mono" transform="matrix(1.082 0.0078 -0.1123 1.0212 460.42 536.78)">2.0</text>
<text class="t-mono" transform="matrix(1.0821 0.0068 -0.1063 1.0209 553.46 537.41)">4.0</text>
<path d="M641.4,528.94 L641.89,527.3 L642.94,525.91 L644.4,524.99 L646.05,524.67 L650.71,524.7 L652.3,525.03 L653.57,525.97 L654.35,527.36 L654.51,529.01 L653.58,538.41 L653.1,540.05 L652.05,541.44 L650.58,542.36 L648.93,542.68 L644.27,542.65 L642.68,542.32 L641.4,541.38 L640.63,539.98 L640.47,538.34Z" fill="#f0e097" />
<text class="t-mono" transform="matrix(1.0821 0.006 -0.1012 1.0218 643.12 537.95)">4</text>
<path d="M711.38,529.3 L711.86,527.66 L712.91,526.27 L714.37,525.34 L716.01,525.02 L720.68,525.05 L722.26,525.38 L723.54,526.32 L724.33,527.72 L724.49,529.36 L723.6,538.78 L723.13,540.42 L722.08,541.81 L720.62,542.74 L718.97,543.06 L714.3,543.03 L712.72,542.7 L711.44,541.76 L710.65,540.36 L710.49,538.71Z" fill="#d0e8d8" />
<text class="t-mono" transform="matrix(1.0822 0.0053 -0.0969 1.0233 713.14 538.33)">1</text>
<text class="t-mono" transform="matrix(1.0823 0.0045 -0.0909 1.0267 811.13 538.79)">8</text>
<text class="t-mono" transform="matrix(1.0823 0.0037 -0.0851 1.0313 904.98 539.17)">10</text>
<text class="t-mono" transform="matrix(1.0823 0.0033 -0.0812 1.0349 973.42 539.41)">0</text>
<text class="t-mono" transform="matrix(1.0823 0.0029 -0.0778 1.0387 1031.67 539.6)">0</text>
<path d="M1088.27,530.57 L1088.71,528.9 L1089.73,527.48 L1091.16,526.53 L1092.8,526.2 L1097.47,526.21 L1099.06,526.55 L1100.36,527.5 L1101.18,528.92 L1101.38,530.6 L1100.7,540.19 L1100.26,541.87 L1099.24,543.29 L1097.8,544.24 L1096.16,544.57 L1091.49,544.55 L1089.9,544.21 L1088.6,543.26 L1087.78,541.84 L1087.58,540.16Z" fill="#f0e097" />
<text class="t-mono" transform="matrix(1.0823 0.0025 -0.0743 1.0427 1090.23 539.76)">1</text>
<text class="t-mono" transform="matrix(1.0833 0.0102 -0.1402 1.0425 61.37 559.19)">Rick</text>
<text class="t-mono" transform="matrix(1.0834 0.0098 -0.1363 1.0381 100.85 559.54)">Deckard</text>
<text class="t-mono" transform="matrix(1.0837 0.0079 -0.1171 1.0242 395.16 561.9)">1</text>
<path d="M455.96,553.31 L456.47,551.67 L457.54,550.28 L459.01,549.36 L460.67,549.04 L481.12,549.19 L482.7,549.52 L483.97,550.46 L484.73,551.86 L484.88,553.51 L483.85,562.92 L483.35,564.56 L482.28,565.95 L480.8,566.87 L479.15,567.19 L458.67,567.05 L457.09,566.71 L455.82,565.77 L455.06,564.37 L454.92,562.72Z" fill="#d0e8d8" />
<text class="t-mono" transform="matrix(1.0837 0.0074 -0.1125 1.0228 457.59 562.34)">2.0</text>
<path d="M549.1,553.94 L549.6,552.29 L550.66,550.91 L552.13,549.99 L553.78,549.67 L574.23,549.8 L575.82,550.14 L577.09,551.08 L577.86,552.47 L578.02,554.12 L577.04,563.53 L576.55,565.17 L575.49,566.56 L574.02,567.48 L572.37,567.8 L551.89,567.67 L550.31,567.33 L549.03,566.39 L548.26,564.99 L548.11,563.34Z" fill="#f0e097" />
<text class="t-mono" transform="matrix(1.0838 0.0069 -0.1065 1.0225 550.78 562.96)">2.0</text>
<text class="t-mono" transform="matrix(1.0838 0.0065 -0.1014 1.0233 640.58 563.52)">2</text>
<path d="M708.95,554.89 L709.43,553.25 L710.48,551.86 L711.94,550.93 L713.59,550.61 L718.26,550.64 L719.84,550.97 L721.13,551.91 L721.91,553.31 L722.08,554.96 L721.19,564.39 L720.71,566.04 L719.66,567.43 L718.2,568.36 L716.55,568.68 L711.88,568.65 L710.29,568.31 L709,567.37 L708.22,565.97 L708.05,564.32Z" fill="#d0e8d8" />
<text class="t-mono" transform="matrix(1.0839 0.0061 -0.0971 1.0249 710.71 563.93)">1</text>
<path d="M807.03,555.41 L807.5,553.76 L808.54,552.36 L810,551.43 L811.65,551.11 L816.32,551.14 L817.91,551.47 L819.2,552.42 L819.99,553.82 L820.17,555.47 L819.33,564.94 L818.86,566.59 L817.82,567.99 L816.37,568.92 L814.72,569.24 L810.04,569.21 L808.45,568.87 L807.16,567.93 L806.37,566.52 L806.19,564.87Z" fill="#f0e097" />
<text class="t-mono" transform="matrix(1.0839 0.0056 -0.0911 1.0283 808.85 564.48)">4</text>
<path d="M900.97,555.86 L901.43,554.2 L902.47,552.8 L903.92,551.87 L905.56,551.55 L918.13,551.6 L919.72,551.94 L921.01,552.88 L921.81,554.29 L922,555.96 L921.22,565.47 L920.76,567.13 L919.73,568.53 L918.28,569.46 L916.63,569.79 L904.06,569.72 L902.46,569.38 L901.17,568.43 L900.37,567.02 L900.18,565.36Z" fill="#f0e097" />
<text class="t-mono" transform="matrix(1.0839 0.0052 -0.0852 1.033 902.84 564.97)">11</text>
<text class="t-mono" transform="matrix(1.0839 0.0049 -0.0814 1.0367 971.38 565.31)">0</text>
<text class="t-mono" transform="matrix(1.0839 0.0047 -0.0779 1.0405 1029.72 565.59)">0</text>
<text class="t-mono" transform="matrix(1.0839 0.0045 -0.0744 1.0447 1088.36 565.85)">0</text>
<text class="t-mono" transform="matrix(1.0854 0.0077 -0.1406 1.0452 57.83 585.34)">John</text>
<text class="t-mono" transform="matrix(1.0854 0.0076 -0.137 1.0411 97.38 585.6)">Matrix</text>
<text class="t-mono" transform="matrix(1.0855 0.0072 -0.1175 1.027 392.22 587.55)">1</text>
<path d="M453.12,578.91 L453.63,577.26 L454.7,575.87 L456.18,574.95 L457.84,574.63 L478.32,574.77 L479.9,575.1 L481.18,576.05 L481.94,577.45 L482.08,579.1 L481.05,588.53 L480.55,590.18 L479.48,591.57 L478,592.5 L476.34,592.82 L455.84,592.68 L454.25,592.35 L452.98,591.4 L452.22,590 L452.08,588.34Z" fill="#d0e8d8" />
<text class="t-mono" transform="matrix(1.0855 0.0071 -0.1128 1.0257 454.75 587.96)">2.0</text>
<text class="t-mono" transform="matrix(1.0855 0.007 -0.1068 1.0253 548.09 588.57)">4.5</text>
<text class="t-mono" transform="matrix(1.0855 0.0069 -0.1017 1.0261 638.04 589.15)">2</text>
<text class="t-mono" transform="matrix(1.0855 0.0068 -0.0974 1.0276 708.27 589.6)">0</text>
<text class="t-mono" transform="matrix(1.0855 0.0067 -0.0914 1.0309 806.56 590.23)">9</text>
<text class="t-mono" transform="matrix(1.0855 0.0066 -0.0855 1.0355 904.65 590.85)">8</text>
<path d="M967.43,582.09 L967.88,580.43 L968.91,579.02 L970.36,578.08 L972.01,577.76 L976.69,577.78 L978.28,578.12 L979.58,579.08 L980.39,580.5 L980.58,582.17 L979.83,591.73 L979.38,593.4 L978.35,594.81 L976.9,595.75 L975.25,596.07 L970.57,596.04 L968.97,595.7 L967.67,594.74 L966.87,593.32 L966.68,591.65Z" fill="#d0e8d8" />
<text class="t-mono" transform="matrix(1.0855 0.0066 -0.0816 1.0392 969.33 591.26)">1</text>
<text class="t-mono" transform="matrix(1.0855 0.0065 -0.0781 1.0429 1027.76 591.63)">0</text>
<text class="t-mono" transform="matrix(1.0855 0.0065 -0.0746 1.0469 1086.49 592)">0</text>
<text class="t-mono" transform="matrix(1.0875 0.0053 -0.141 1.048 54.28 611.55)">Andy</text>
<text class="t-mono" transform="matrix(1.0874 0.0055 -0.1368 1.0436 93.91 611.72)">Dufresne</text>
<text class="t-mono" transform="matrix(1.0873 0.0066 -0.118 1.0309 389.27 613.29)">1</text>
<path d="M450.28,604.58 L450.78,602.93 L451.86,601.54 L453.34,600.61 L455,600.29 L475.51,600.42 L477.1,600.76 L478.37,601.7 L479.14,603.11 L479.28,604.77 L478.25,614.24 L477.74,615.89 L476.67,617.29 L475.19,618.22 L473.53,618.54 L452.99,618.42 L451.4,618.08 L450.13,617.13 L449.36,615.72 L449.22,614.06Z" fill="#d0e8d8" />
<text class="t-mono" transform="matrix(1.0873 0.0068 -0.1133 1.0297 451.9 613.67)">2.0</text>
<text class="t-mono" transform="matrix(1.0872 0.0071 -0.1073 1.0293 545.39 614.26)">6.5</text>
<text class="t-mono" transform="matrix(1.0872 0.0073 -0.1021 1.0301 635.48 614.86)">2</text>
<text class="t-mono" transform="matrix(1.0872 0.0075 -0.0977 1.0315 705.83 615.35)">0</text>
<text class="t-mono" transform="matrix(1.0872 0.0078 -0.0917 1.0346 800.31 616.03)">13</text>
<text class="t-mono" transform="matrix(1.0872 0.008 -0.0858 1.0389 902.5 616.79)">8</text>
<path d="M965.38,608.09 L965.83,606.41 L966.86,605 L968.31,604.06 L969.96,603.74 L974.65,603.78 L976.25,604.12 L977.55,605.08 L978.36,606.5 L978.55,608.18 L977.8,617.77 L977.34,619.45 L976.31,620.86 L974.86,621.8 L973.21,622.12 L968.52,622.09 L966.92,621.74 L965.62,620.78 L964.81,619.35 L964.62,617.67Z" fill="#d0e8d8" />
<text class="t-mono" transform="matrix(1.0872 0.0082 -0.0819 1.0423 967.28 617.29)">1</text>
<text class="t-mono" transform="matrix(1.0872 0.0083 -0.0784 1.0457 1025.8 617.74)">0</text>
<text class="t-mono" transform="matrix(1.0872 0.0084 -0.0748 1.0495 1084.62 618.21)">0</text>
<text class="t-mono" transform="matrix(1.0896 0.0032 -0.1411 1.0507 50.72 637.83)">Henry</text>
<text class="t-mono" transform="matrix(1.0895 0.0036 -0.1378 1.0477 98.36 637.95)">Hill</text>
<text class="t-mono" transform="matrix(1.0891 0.006 -0.1186 1.0361 386.3 639.15)">1</text>
<path d="M447.41,630.37 L447.92,628.71 L449,627.31 L450.48,626.38 L452.14,626.06 L472.69,626.18 L474.28,626.52 L475.56,627.47 L476.33,628.88 L476.47,630.55 L475.43,640.07 L474.92,641.73 L473.85,643.14 L472.37,644.07 L470.7,644.4 L450.13,644.27 L448.54,643.93 L447.26,642.98 L446.5,641.56 L446.36,639.9Z" fill="#d0e8d8" />
<text class="t-mono" transform="matrix(1.089 0.0065 -0.1139 1.035 449.04 639.5)">2.0</text>
<text class="t-mono" transform="matrix(1.089 0.0072 -0.1079 1.0347 542.68 640.08)">8.5</text>
<text class="t-mono" transform="matrix(1.0889 0.0077 -0.1027 1.0353 632.92 640.7)">1</text>
<text class="t-mono" transform="matrix(1.0889 0.0082 -0.0983 1.0366 703.37 641.22)">0</text>
<text class="t-mono" transform="matrix(1.0888 0.0088 -0.0922 1.0393 797.99 641.96)">17</text>
<text class="t-mono" transform="matrix(1.0888 0.0093 -0.0862 1.0431 900.34 642.82)">8</text>
<path d="M963.32,634.16 L963.77,632.49 L964.81,631.07 L966.26,630.13 L967.91,629.81 L972.6,629.85 L974.2,630.2 L975.51,631.16 L976.32,632.59 L976.51,634.28 L975.76,643.9 L975.3,645.58 L974.27,647 L972.81,647.94 L971.16,648.26 L966.46,648.22 L964.86,647.87 L963.56,646.9 L962.75,645.47 L962.56,643.78Z" fill="#d0e8d8" />
<text class="t-mono" transform="matrix(1.0888 0.0096 -0.0822 1.0461 965.22 643.4)">1</text>
<text class="t-mono" transform="matrix(1.0888 0.0099 -0.0787 1.0491 1023.83 643.94)">0</text>
<text class="t-mono" transform="matrix(1.0888 0.0101 -0.0751 1.0525 1082.73 644.49)">0</text>
<text class="t-mono" transform="matrix(1.0916 0.0015 -0.1409 1.0535 47.15 664.18)">Vincent</text>
<text class="t-mono" transform="matrix(1.0914 0.0024 -0.1364 1.0501 110.78 664.25)">Freeman</text>
<text class="t-mono" transform="matrix(1.0909 0.0055 -0.1193 1.0423 383.32 665.16)">1</text>
<path d="M444.54,656.3 L445.05,654.63 L446.13,653.22 L447.61,652.28 L449.28,651.96 L469.86,652.08 L471.45,652.42 L472.73,653.37 L473.5,654.8 L473.64,656.47 L472.59,666.05 L472.09,667.72 L471.01,669.14 L469.52,670.08 L467.85,670.41 L447.25,670.29 L445.65,669.95 L444.38,668.99 L443.61,667.56 L443.47,665.88Z" fill="#d0e8d8" />
<text class="t-mono" transform="matrix(1.0908 0.0063 -0.1146 1.0415 446.16 665.49)">2.0</text>
<text class="t-mono" transform="matrix(1.0907 0.0072 -0.1086 1.0413 539.96 666.06)">6.0</text>
<text class="t-mono" transform="matrix(1.0906 0.0081 -0.1033 1.0419 630.33 666.69)">0</text>
<text class="t-mono" transform="matrix(1.0906 0.0087 -0.0989 1.0429 700.9 667.23)">0</text>
<text class="t-mono" transform="matrix(1.0905 0.0096 -0.0927 1.0451 795.67 668.03)">12</text>
<text class="t-mono" transform="matrix(1.0905 0.0104 -0.0866 1.0481 898.18 668.98)">5</text>
<text class="t-mono" transform="matrix(1.0905 0.0108 -0.0826 1.0506 963.16 669.62)">0</text>
<text class="t-mono" transform="matrix(1.0905 0.0112 -0.079 1.053 1021.85 670.22)">0</text>
<text class="t-mono" transform="matrix(1.0905 0.0116 -0.0753 1.0557 1080.85 670.85)">0</text>
<text class="t-mono" transform="matrix(1.0935 0.0001 -0.142 1.0574 43.57 690.61)">David</text>
<text class="t-mono" transform="matrix(1.0934 0.0009 -0.1386 1.0557 91.38 690.61)">Mills</text>
<text class="t-mono" transform="matrix(1.0927 0.0051 -0.1202 1.0498 380.32 691.34)">1</text>
<path d="M441.64,682.4 L442.15,680.72 L443.23,679.3 L444.72,678.35 L446.39,678.03 L467.01,678.14 L468.6,678.49 L469.88,679.45 L470.65,680.88 L470.79,682.57 L469.74,692.22 L469.23,693.91 L468.15,695.33 L466.66,696.28 L464.99,696.61 L444.35,696.5 L442.75,696.15 L441.47,695.19 L440.71,693.75 L440.57,692.06Z" fill="#d0e8d8" />
<text class="t-mono" transform="matrix(1.0926 0.0061 -0.1155 1.0493 443.26 691.66)">2.0</text>
<text class="t-mono" transform="matrix(1.0925 0.0073 -0.1094 1.0492 537.21 692.22)">8.5</text>
<text class="t-mono" transform="matrix(1.0924 0.0083 -0.1041 1.0497 627.73 692.86)">0</text>
<text class="t-mono" transform="matrix(1.0923 0.0091 -0.0996 1.0504 698.41 693.43)">0</text>
<text class="t-mono" transform="matrix(1.0922 0.0102 -0.0934 1.052 793.33 694.27)">17</text>
<text class="t-mono" transform="matrix(1.0922 0.0112 -0.0871 1.0541 896 695.28)">6</text>
<text class="t-mono" transform="matrix(1.0922 0.0118 -0.083 1.0558 961.08 695.97)">0</text>
<path d="M1017.92,687.28 L1018.38,685.58 L1019.41,684.15 L1020.86,683.21 L1022.52,682.89 L1027.22,682.94 L1028.83,683.29 L1030.14,684.27 L1030.96,685.72 L1031.15,687.42 L1030.43,697.15 L1029.98,698.85 L1028.94,700.28 L1027.49,701.23 L1025.83,701.55 L1021.12,701.5 L1019.51,701.14 L1018.2,700.16 L1017.39,698.71 L1017.19,697Z" fill="#d0e8d8" />
<text class="t-mono" transform="matrix(1.0922 0.0122 -0.0793 1.0575 1019.86 696.62)">1</text>
<text class="t-mono" transform="matrix(1.0922 0.0127 -0.0756 1.0593 1078.95 697.3)">0</text>
<text class="t-mono" transform="matrix(1.0954 -0.0006 -0.1425 1.0611 39.97 717.12)">Tyler</text>
<text class="t-mono" transform="matrix(1.0952 0.0003 -0.139 1.0604 87.87 717.09)">Durden</text>
<text class="t-mono" transform="matrix(1.0945 0.0049 -0.1212 1.0585 377.29 717.73)">1</text>
<path d="M438.72,708.71 L439.23,707.01 L440.32,705.58 L441.81,704.62 L443.48,704.3 L464.13,704.41 L465.73,704.76 L467.01,705.73 L467.78,707.17 L467.92,708.87 L466.85,718.61 L466.34,720.31 L465.26,721.75 L463.77,722.71 L462.09,723.04 L441.42,722.93 L439.82,722.58 L438.54,721.6 L437.78,720.15 L437.64,718.45Z" fill="#d0e8d8" />
<text class="t-mono" transform="matrix(1.0944 0.006 -0.1165 1.0584 440.33 718.04)">2.0</text>
<text class="t-mono" transform="matrix(1.0942 0.0074 -0.1104 1.0585 530.45 718.58)">16.0</text>
<text class="t-mono" transform="matrix(1.0941 0.0085 -0.1051 1.0588 625.1 719.26)">0</text>
<text class="t-mono" transform="matrix(1.094 0.0094 -0.1005 1.0592 695.89 719.83)">0</text>
<text class="t-mono" transform="matrix(1.094 0.0106 -0.0941 1.0599 790.97 720.7)">32</text>
<text class="t-mono" transform="matrix(1.0939 0.0117 -0.0877 1.0609 893.8 721.74)">2</text>
<path d="M957.08,713.08 L957.54,711.38 L958.58,709.94 L960.04,708.99 L961.7,708.67 L966.41,708.73 L968.02,709.08 L969.33,710.06 L970.14,711.52 L970.33,713.23 L969.57,723 L969.11,724.7 L968.07,726.14 L966.61,727.09 L964.95,727.41 L960.23,727.36 L958.62,727 L957.31,726.02 L956.5,724.56 L956.31,722.85Z" fill="#d0e8d8" />
<text class="t-mono" transform="matrix(1.0939 0.0123 -0.0835 1.0617 958.99 722.46)">1</text>
<path d="M1015.93,713.75 L1016.38,712.05 L1017.41,710.61 L1018.87,709.66 L1020.53,709.34 L1025.24,709.4 L1026.85,709.75 L1028.16,710.74 L1028.98,712.19 L1029.18,713.9 L1028.45,723.68 L1028,725.38 L1026.96,726.82 L1025.5,727.78 L1023.84,728.1 L1019.12,728.04 L1017.51,727.68 L1016.2,726.7 L1015.39,725.24 L1015.19,723.52Z" fill="#d0e8d8" />
<text class="t-mono" transform="matrix(1.0939 0.0129 -0.0798 1.0624 1017.87 723.14)">1</text>
<text class="t-mono" transform="matrix(1.0939 0.0134 -0.0759 1.0633 1077.05 723.85)">0</text>
<text class="t-th" transform="matrix(1.0479 -0.0006 -0.1432 1.0652 33.81 742.27)">Totals</text>
<text class="t-monob" transform="matrix(1.0962 0.005 -0.1227 1.07 374.44 742.56)">1</text>
<text class="t-monob" transform="matrix(1.096 0.0061 -0.1181 1.0703 433.59 742.85)">16.0</text>
<text class="t-monob" transform="matrix(1.0959 0.0074 -0.1119 1.0703 531.83 743.44)">7.0</text>
<text class="t-monob" transform="matrix(1.0958 0.0085 -0.1065 1.07 618.64 744.06)">11</text>
<text class="t-monob" transform="matrix(1.0957 0.0094 -0.1018 1.0695 693.53 744.67)">2</text>
<text class="t-monob" transform="matrix(1.0956 0.0106 -0.0952 1.0684 784.76 745.49)">112</text>
<text class="t-monob" transform="matrix(1.0956 0.0117 -0.0886 1.067 887.75 746.53)">58</text>
<text class="t-monob" transform="matrix(1.0956 0.0123 -0.0842 1.0659 957.02 747.28)">4</text>
<text class="t-monob" transform="matrix(1.0956 0.0129 -0.0803 1.0648 1015.99 747.95)">2</text>
<text class="t-monob" transform="matrix(1.0956 0.0134 -0.0763 1.0636 1075.27 748.65)">1</text>
<text class="t-foot" transform="matrix(1.0828 0.0012 -0.1448 1.0703 30.52 775.98)" letter-spacing="0.07">G:</text>
<text class="t-foot" transform="matrix(1.0827 0.0016 -0.1432 1.073 47.37 776.01)" letter-spacing="0.07">Games</text>
<text class="t-foot" transform="matrix(1.0826 0.0022 -0.1408 1.0764 91.45 776.09)" letter-spacing="0.07">played.</text>
<text class="t-foot" transform="matrix(1.0825 0.0026 -0.1392 1.0785 139.23 776.2)" letter-spacing="0.07">|</text>
<text class="t-foot" transform="matrix(1.0825 0.0029 -0.1377 1.0802 149.63 776.23)" letter-spacing="0.07">Overs:</text>
<text class="t-foot" transform="matrix(1.0824 0.0034 -0.1357 1.0823 190.3 776.35)" letter-spacing="0.07">Balls</text>
<text class="t-foot" transform="matrix(1.0823 0.0038 -0.1335 1.0841 221.23 776.45)" letter-spacing="0.07">bowled</text>
<text class="t-foot" transform="matrix(1.0823 0.0041 -0.1319 1.0852 264.69 776.61)" letter-spacing="0.07">÷</text>
<text class="t-foot" transform="matrix(1.0823 0.0043 -0.1311 1.0857 275.14 776.66)" letter-spacing="0.07">6.</text>
<text class="t-foot" transform="matrix(1.0822 0.0044 -0.1303 1.0862 292.76 776.73)" letter-spacing="0.07">|</text>
<text class="t-foot" transform="matrix(1.0822 0.0047 -0.1288 1.0869 303.15 776.77)" letter-spacing="0.07">Econ:</text>
<text class="t-foot" transform="matrix(1.0821 0.0052 -0.1259 1.088 338.92 776.93)" letter-spacing="0.07">Economy</text>
<text class="t-foot" transform="matrix(1.0821 0.0056 -0.1233 1.0887 394.89 777.21)" letter-spacing="0.07">rate</text>
<text class="t-foot" transform="matrix(1.0821 0.0058 -0.1222 1.0888 420.19 777.34)" letter-spacing="0.07">=</text>
<text class="t-foot" transform="matrix(1.082 0.0061 -0.1207 1.0889 431.08 777.4)" letter-spacing="0.07">Runs</text>
<text class="t-foot" transform="matrix(1.082 0.0063 -0.1193 1.089 463.99 777.59)" letter-spacing="0.07">÷</text>
<text class="t-foot" transform="matrix(1.082 0.0066 -0.1177 1.0889 474.44 777.64)" letter-spacing="0.07">Overs;</text>
<text class="t-foot" transform="matrix(1.0819 0.0069 -0.1152 1.0886 515.1 777.89)" letter-spacing="0.07">lower</text>
<text class="t-foot" transform="matrix(1.0819 0.0073 -0.1127 1.088 548.77 778.1)" letter-spacing="0.07">means</text>
<text class="t-foot" transform="matrix(1.0819 0.0076 -0.1102 1.0872 590.06 778.38)" letter-spacing="0.07">more</text>
<text class="t-foot" transform="matrix(1.0818 0.0081 -0.1067 1.0858 622.27 778.6)" letter-spacing="0.07">economical.</text>
<text class="t-foot" transform="matrix(1.0818 0.0085 -0.1037 1.0842 696.61 779.15)" letter-spacing="0.07">|</text>
<text class="t-foot" transform="matrix(1.0818 0.0087 -0.102 1.0832 707 779.23)" letter-spacing="0.07">Wkts:</text>
<text class="t-foot" transform="matrix(1.0817 0.009 -0.0991 1.0813 742.03 779.5)" letter-spacing="0.07">Wickets</text>
<text class="t-foot" transform="matrix(1.0817 0.0094 -0.0958 1.0787 789.68 779.89)" letter-spacing="0.07">credited</text>
<text class="t-foot" transform="matrix(1.0817 0.0096 -0.0934 1.0767 838.11 780.3)" letter-spacing="0.07">(b,</text>
<text class="t-foot" transform="matrix(1.0817 0.0098 -0.0923 1.0758 856.4 780.46)" letter-spacing="0.07">c,</text>
<text class="t-foot" transform="matrix(1.0817 0.0099 -0.0911 1.0746 869.78 780.58)" letter-spacing="0.07">st).</text>
<text class="t-foot" transform="matrix(1.0817 0.01 -0.0898 1.0735 894.44 780.8)" letter-spacing="0.07">|</text>
<text class="t-foot" transform="matrix(1.0817 0.0102 -0.088 1.0717 904.83 780.89)" letter-spacing="0.07">Mdns:</text>
<text class="t-foot" transform="matrix(1.0817 0.0104 -0.0856 1.0692 942.65 781.24)" letter-spacing="0.07">True</text>
<text class="t-foot" transform="matrix(1.0817 0.0107 -0.0828 1.0661 971.4 781.5)" letter-spacing="0.07">maidens</text>
<text class="t-foot" transform="matrix(1.0817 0.011 -0.0789 1.0616 1022.52 781.99)" letter-spacing="0.07">(complete</text>
<text class="t-foot" transform="matrix(1.0817 0.0113 -0.0758 1.0577 1081.4 782.57)" letter-spacing="0.07">over</text>
<text class="t-foot" transform="matrix(1.0835 0.0029 -0.144 1.0747 28.16 790.56)" letter-spacing="0.14">conceding</text>
<text class="t-foot" transform="matrix(1.0834 0.0033 -0.142 1.0787 89.96 790.75)" letter-spacing="0.14">0).</text>
<text class="t-foot" transform="matrix(1.0834 0.0035 -0.1411 1.0801 112.19 790.82)" letter-spacing="0.14">|</text>
<text class="t-foot" transform="matrix(1.0833 0.0038 -0.139 1.0834 122.82 790.87)" letter-spacing="0.14">Conceded:</text>
<text class="t-foot" transform="matrix(1.0833 0.0042 -0.1363 1.0869 188.07 791.11)" letter-spacing="0.14">Runs</text>
<text class="t-foot" transform="matrix(1.0832 0.0045 -0.1343 1.089 221.39 791.25)" letter-spacing="0.14">given</text>
<text class="t-foot" transform="matrix(1.0832 0.0047 -0.1329 1.0903 255.55 791.4)" letter-spacing="0.14">by</text>
<text class="t-foot" transform="matrix(1.0831 0.0049 -0.1317 1.0912 272.63 791.48)" letter-spacing="0.14">the</text>
<text class="t-foot" transform="matrix(1.0831 0.0051 -0.1297 1.0925 294.02 791.58)" letter-spacing="0.14">bowler.</text>
<text class="t-foot" transform="matrix(1.0831 0.0054 -0.1279 1.0934 341.79 791.81)" letter-spacing="0.14">|</text>
<text class="t-foot" transform="matrix(1.0831 0.0055 -0.1267 1.0939 352.41 791.87)" letter-spacing="0.14">Dot:</text>
<text class="t-foot" transform="matrix(1.083 0.0059 -0.1239 1.0947 379.49 792.01)" letter-spacing="0.14">Deliveries</text>
<text class="t-foot" transform="matrix(1.083 0.0062 -0.1212 1.0951 439.32 792.33)" letter-spacing="0.14">that</text>
<text class="t-foot" transform="matrix(1.0829 0.0065 -0.1184 1.095 464.32 792.48)" letter-spacing="0.14">conceded</text>
<text class="t-foot" transform="matrix(1.0829 0.0067 -0.1161 1.0947 523.18 792.83)" letter-spacing="0.14">0</text>
<text class="t-foot" transform="matrix(1.0829 0.0069 -0.1147 1.0943 533.87 792.89)" letter-spacing="0.14">runs.</text>
<text class="t-foot" transform="matrix(1.0829 0.007 -0.1131 1.0938 569.55 793.12)" letter-spacing="0.14">|</text>
<text class="t-foot" transform="matrix(1.0829 0.0071 -0.1119 1.0934 580.17 793.19)" letter-spacing="0.14">Ct:</text>
<text class="t-foot" transform="matrix(1.0828 0.0074 -0.1095 1.0923 600.16 793.31)" letter-spacing="0.14">Catches</text>
<text class="t-foot" transform="matrix(1.0828 0.0076 -0.1064 1.0906 650.54 793.65)" letter-spacing="0.14">taken.</text>
<text class="t-foot" transform="matrix(1.0828 0.0078 -0.1046 1.0895 692.61 793.94)" letter-spacing="0.14">|</text>
<text class="t-foot" transform="matrix(1.0828 0.0079 -0.1032 1.0885 703.22 794.01)" letter-spacing="0.14">RO:</text>
<text class="t-foot" transform="matrix(1.0828 0.0082 -0.1003 1.0862 729.44 794.2)" letter-spacing="0.14">Run-outs</text>
<text class="t-foot" transform="matrix(1.0828 0.0085 -0.0964 1.0828 784.82 794.6)" letter-spacing="0.14">effected.</text>
<text class="t-foot" transform="matrix(1.0828 0.0086 -0.0941 1.0804 840.96 795.03)" letter-spacing="0.14">|</text>
<text class="t-foot" transform="matrix(1.0828 0.0087 -0.0927 1.079 851.58 795.11)" letter-spacing="0.14">Htr:</text>
<text class="t-foot" transform="matrix(1.0828 0.0089 -0.0897 1.0757 875.87 795.29)" letter-spacing="0.14">Hat-tricks</text>
<text class="t-foot" transform="matrix(1.0827 0.0092 -0.0863 1.0715 933.6 795.75)" letter-spacing="0.14">(three</text>
<text class="t-foot" transform="matrix(1.0827 0.0094 -0.0824 1.0664 970.67 796.04)" letter-spacing="0.14">consecutive</text>
<text class="t-foot" transform="matrix(1.0827 0.0097 -0.0782 1.0604 1041.73 796.64)" letter-spacing="0.14">wickets</text>
<text class="t-foot" transform="matrix(1.0827 0.0098 -0.0759 1.0571 1087.24 797.03)" letter-spacing="0.14">by</text>
<text class="t-foot" transform="matrix(1.0827 0.0099 -0.074 1.0542 1104.31 797.18)" letter-spacing="0.14">same</text>
<text class="t-foot" transform="matrix(1.0739 0.0045 -0.1445 1.0762 26.9 804.81)" letter-spacing="0.33">bowler).</text>
<path d="M1055.04,86.51 L1055.37,84.3 L1056.04,82.13 L1057.02,80.06 L1058.29,78.13 L1059.81,76.4 L1061.56,74.9 L1063.48,73.68 L1065.53,72.77 L1067.66,72.17 L1069.82,71.92 L1082.4,71.44 L1094.99,70.93 L1107.57,70.43 L1120.15,69.95 L1122.28,70.04 L1124.34,70.48 L1126.26,71.26 L1128.02,72.35 L1129.55,73.73 L1130.83,75.36 L1131.82,77.21 L1132.5,79.23 L1132.85,81.36 L1132.86,83.57 L1132.86,83.57 L1132.53,85.79 L1131.88,87.96 L1130.91,90.04 L1129.65,91.97 L1128.13,93.71 L1126.39,95.22 L1124.47,96.44 L1122.42,97.37 L1120.28,97.96 L1118.12,98.22 L1105.52,98.69 L1092.92,99.18 L1080.31,99.67 L1067.71,100.14 L1065.57,100.04 L1063.51,99.6 L1061.59,98.82 L1059.84,97.73 L1058.3,96.35 L1057.03,94.71 L1056.05,92.86 L1055.38,90.85 L1055.04,88.71 L1055.04,86.51Z" fill="#18a8bb" />
<text class="t-logo" transform="matrix(0.8922 -0.0358 -0.0739 1.0089 1064.68 91.82)">CricKids</text>
<text class="t-scan" transform="matrix(1.0013 -0.0362 -0.0754 1.0092 1061.04 108.75)">scan</text>
<text class="t-scan" transform="matrix(1.0015 -0.0389 -0.0745 1.0098 1080.67 108.03)">to</text>
<text class="t-scan" transform="matrix(1.0013 -0.0374 -0.0731 1.0108 1089.81 107.66)">download</text>
<path transform="matrix(0.9803 -0.0361 -0.0688 1.0089 1139.42 48.98)" d="M0,0h17.99v2.61h-17.99zM20.5,0h12.86v2.61h-12.86zM35.87,0h5.17v2.61h-5.17zM48.68,0h2.61v2.61h-2.61zM56.37,0h17.99v2.61h-17.99zM0,2.56h2.61v2.61h-2.61zM15.37,2.56h2.61v2.61h-2.61zM20.5,2.56h5.17v2.61h-5.17zM28.18,2.56h5.17v2.61h-5.17zM38.43,2.56h2.61v2.61h-2.61zM51.24,2.56h2.61v2.61h-2.61zM56.37,2.56h2.61v2.61h-2.61zM71.74,2.56h2.61v2.61h-2.61zM0,5.12h2.61v2.61h-2.61zM5.12,5.12h7.74v2.61h-7.74zM15.37,5.12h2.61v2.61h-2.61zM25.62,5.12h2.61v2.61h-2.61zM30.75,5.12h2.61v2.61h-2.61zM43.56,5.12h5.17v2.61h-5.17zM51.24,5.12h2.61v2.61h-2.61zM56.37,5.12h2.61v2.61h-2.61zM61.49,5.12h7.74v2.61h-7.74zM71.74,5.12h2.61v2.61h-2.61zM0,7.69h2.61v2.61h-2.61zM5.12,7.69h7.74v2.61h-7.74zM15.37,7.69h2.61v2.61h-2.61zM20.5,7.69h5.17v2.61h-5.17zM30.75,7.69h12.86v2.61h-12.86zM46.12,7.69h7.74v2.61h-7.74zM56.37,7.69h2.61v2.61h-2.61zM61.49,7.69h7.74v2.61h-7.74zM71.74,7.69h2.61v2.61h-2.61zM0,10.25h2.61v2.61h-2.61zM5.12,10.25h7.74v2.61h-7.74zM15.37,10.25h2.61v2.61h-2.61zM20.5,10.25h28.23v2.61h-28.23zM56.37,10.25h2.61v2.61h-2.61zM61.49,10.25h7.74v2.61h-7.74zM71.74,10.25h2.61v2.61h-2.61zM0,12.81h2.61v2.61h-2.61zM15.37,12.81h2.61v2.61h-2.61zM25.62,12.81h2.61v2.61h-2.61zM30.75,12.81h2.61v2.61h-2.61zM43.56,12.81h7.74v2.61h-7.74zM56.37,12.81h2.61v2.61h-2.61zM71.74,12.81h2.61v2.61h-2.61zM0,15.37h17.99v2.61h-17.99zM20.5,15.37h2.61v2.61h-2.61zM25.62,15.37h2.61v2.61h-2.61zM30.75,15.37h2.61v2.61h-2.61zM35.87,15.37h2.61v2.61h-2.61zM41,15.37h2.61v2.61h-2.61zM46.12,15.37h2.61v2.61h-2.61zM51.24,15.37h2.61v2.61h-2.61zM56.37,15.37h17.99v2.61h-17.99zM20.5,17.94h5.17v2.61h-5.17zM30.75,17.94h7.74v2.61h-7.74zM43.56,17.94h2.61v2.61h-2.61zM0,20.5h2.61v2.61h-2.61zM7.69,20.5h10.3v2.61h-10.3zM20.5,20.5h7.74v2.61h-7.74zM30.75,20.5h5.17v2.61h-5.17zM41,20.5h2.61v2.61h-2.61zM53.81,20.5h10.3v2.61h-10.3zM66.62,20.5h5.17v2.61h-5.17zM2.56,23.06h2.61v2.61h-2.61zM12.81,23.06h2.61v2.61h-2.61zM17.94,23.06h5.17v2.61h-5.17zM35.87,23.06h2.61v2.61h-2.61zM48.68,23.06h2.61v2.61h-2.61zM53.81,23.06h2.61v2.61h-2.61zM66.62,23.06h2.61v2.61h-2.61zM2.56,25.62h15.42v2.61h-15.42zM25.62,25.62h2.61v2.61h-2.61zM33.31,25.62h2.61v2.61h-2.61zM41,25.62h2.61v2.61h-2.61zM46.12,25.62h5.17v2.61h-5.17zM56.37,25.62h5.17v2.61h-5.17zM64.05,25.62h7.74v2.61h-7.74zM0,28.18h2.61v2.61h-2.61zM5.12,28.18h7.74v2.61h-7.74zM17.94,28.18h2.61v2.61h-2.61zM28.18,28.18h7.74v2.61h-7.74zM38.43,28.18h7.74v2.61h-7.74zM51.24,28.18h5.17v2.61h-5.17zM64.05,28.18h5.17v2.61h-5.17zM71.74,28.18h2.61v2.61h-2.61zM0,30.75h2.61v2.61h-2.61zM10.25,30.75h2.61v2.61h-2.61zM15.37,30.75h2.61v2.61h-2.61zM20.5,30.75h5.17v2.61h-5.17zM30.75,30.75h5.17v2.61h-5.17zM38.43,30.75h17.99v2.61h-17.99zM58.93,30.75h2.61v2.61h-2.61zM64.05,30.75h10.3v2.61h-10.3zM0,33.31h2.61v2.61h-2.61zM7.69,33.31h5.17v2.61h-5.17zM20.5,33.31h5.17v2.61h-5.17zM28.18,33.31h2.61v2.61h-2.61zM38.43,33.31h2.61v2.61h-2.61zM48.68,33.31h12.86v2.61h-12.86zM64.05,33.31h7.74v2.61h-7.74zM5.12,35.87h17.99v2.61h-17.99zM30.75,35.87h2.61v2.61h-2.61zM35.87,35.87h12.86v2.61h-12.86zM51.24,35.87h2.61v2.61h-2.61zM56.37,35.87h17.99v2.61h-17.99zM0,38.43h2.61v2.61h-2.61zM17.94,38.43h5.17v2.61h-5.17zM25.62,38.43h2.61v2.61h-2.61zM33.31,38.43h2.61v2.61h-2.61zM48.68,38.43h2.61v2.61h-2.61zM0,41h12.86v2.61h-12.86zM15.37,41h2.61v2.61h-2.61zM25.62,41h5.17v2.61h-5.17zM43.56,41h2.61v2.61h-2.61zM48.68,41h7.74v2.61h-7.74zM58.93,41h2.61v2.61h-2.61zM66.62,41h7.74v2.61h-7.74zM10.25,43.56h5.17v2.61h-5.17zM20.5,43.56h2.61v2.61h-2.61zM25.62,43.56h7.74v2.61h-7.74zM41,43.56h2.61v2.61h-2.61zM46.12,43.56h7.74v2.61h-7.74zM56.37,43.56h2.61v2.61h-2.61zM64.05,43.56h5.17v2.61h-5.17zM0,46.12h7.74v2.61h-7.74zM10.25,46.12h2.61v2.61h-2.61zM15.37,46.12h2.61v2.61h-2.61zM23.06,46.12h2.61v2.61h-2.61zM35.87,46.12h2.61v2.61h-2.61zM41,46.12h23.11v2.61h-23.11zM66.62,46.12h2.61v2.61h-2.61zM0,48.68h2.61v2.61h-2.61zM10.25,48.68h5.17v2.61h-5.17zM23.06,48.68h12.86v2.61h-12.86zM38.43,48.68h2.61v2.61h-2.61zM43.56,48.68h5.17v2.61h-5.17zM51.24,48.68h5.17v2.61h-5.17zM2.56,51.24h2.61v2.61h-2.61zM7.69,51.24h2.61v2.61h-2.61zM15.37,51.24h5.17v2.61h-5.17zM23.06,51.24h10.3v2.61h-10.3zM38.43,51.24h2.61v2.61h-2.61zM43.56,51.24h2.61v2.61h-2.61zM48.68,51.24h17.99v2.61h-17.99zM71.74,51.24h2.61v2.61h-2.61zM25.62,53.81h5.17v2.61h-5.17zM33.31,53.81h10.3v2.61h-10.3zM46.12,53.81h2.61v2.61h-2.61zM51.24,53.81h2.61v2.61h-2.61zM61.49,53.81h7.74v2.61h-7.74zM0,56.37h17.99v2.61h-17.99zM20.5,56.37h2.61v2.61h-2.61zM33.31,56.37h7.74v2.61h-7.74zM51.24,56.37h2.61v2.61h-2.61zM56.37,56.37h2.61v2.61h-2.61zM61.49,56.37h2.61v2.61h-2.61zM66.62,56.37h2.61v2.61h-2.61zM0,58.93h2.61v2.61h-2.61zM15.37,58.93h2.61v2.61h-2.61zM23.06,58.93h5.17v2.61h-5.17zM30.75,58.93h7.74v2.61h-7.74zM46.12,58.93h7.74v2.61h-7.74zM61.49,58.93h5.17v2.61h-5.17zM69.18,58.93h5.17v2.61h-5.17zM0,61.49h2.61v2.61h-2.61zM5.12,61.49h7.74v2.61h-7.74zM15.37,61.49h2.61v2.61h-2.61zM28.18,61.49h2.61v2.61h-2.61zM33.31,61.49h2.61v2.61h-2.61zM38.43,61.49h5.17v2.61h-5.17zM46.12,61.49h2.61v2.61h-2.61zM51.24,61.49h12.86v2.61h-12.86zM66.62,61.49h7.74v2.61h-7.74zM0,64.05h2.61v2.61h-2.61zM5.12,64.05h7.74v2.61h-7.74zM15.37,64.05h2.61v2.61h-2.61zM25.62,64.05h5.17v2.61h-5.17zM35.87,64.05h2.61v2.61h-2.61zM41,64.05h17.99v2.61h-17.99zM61.49,64.05h2.61v2.61h-2.61zM66.62,64.05h5.17v2.61h-5.17zM0,66.62h2.61v2.61h-2.61zM5.12,66.62h7.74v2.61h-7.74zM15.37,66.62h2.61v2.61h-2.61zM23.06,66.62h5.17v2.61h-5.17zM33.31,66.62h7.74v2.61h-7.74zM43.56,66.62h2.61v2.61h-2.61zM51.24,66.62h5.17v2.61h-5.17zM61.49,66.62h2.61v2.61h-2.61zM66.62,66.62h7.74v2.61h-7.74zM0,69.18h2.61v2.61h-2.61zM15.37,69.18h2.61v2.61h-2.61zM23.06,69.18h10.3v2.61h-10.3zM35.87,69.18h2.61v2.61h-2.61zM51.24,69.18h7.74v2.61h-7.74zM61.49,69.18h5.17v2.61h-5.17zM69.18,69.18h5.17v2.61h-5.17zM0,71.74h17.99v2.61h-17.99zM20.5,71.74h5.17v2.61h-5.17zM28.18,71.74h7.74v2.61h-7.74zM48.68,71.74h2.61v2.61h-2.61zM53.81,71.74h2.61v2.61h-2.61zM58.93,71.74h2.61v2.61h-2.61zM64.05,71.74h10.3v2.61h-10.3z" fill="#0a0a0a"/>
</svg>
</body></html>
